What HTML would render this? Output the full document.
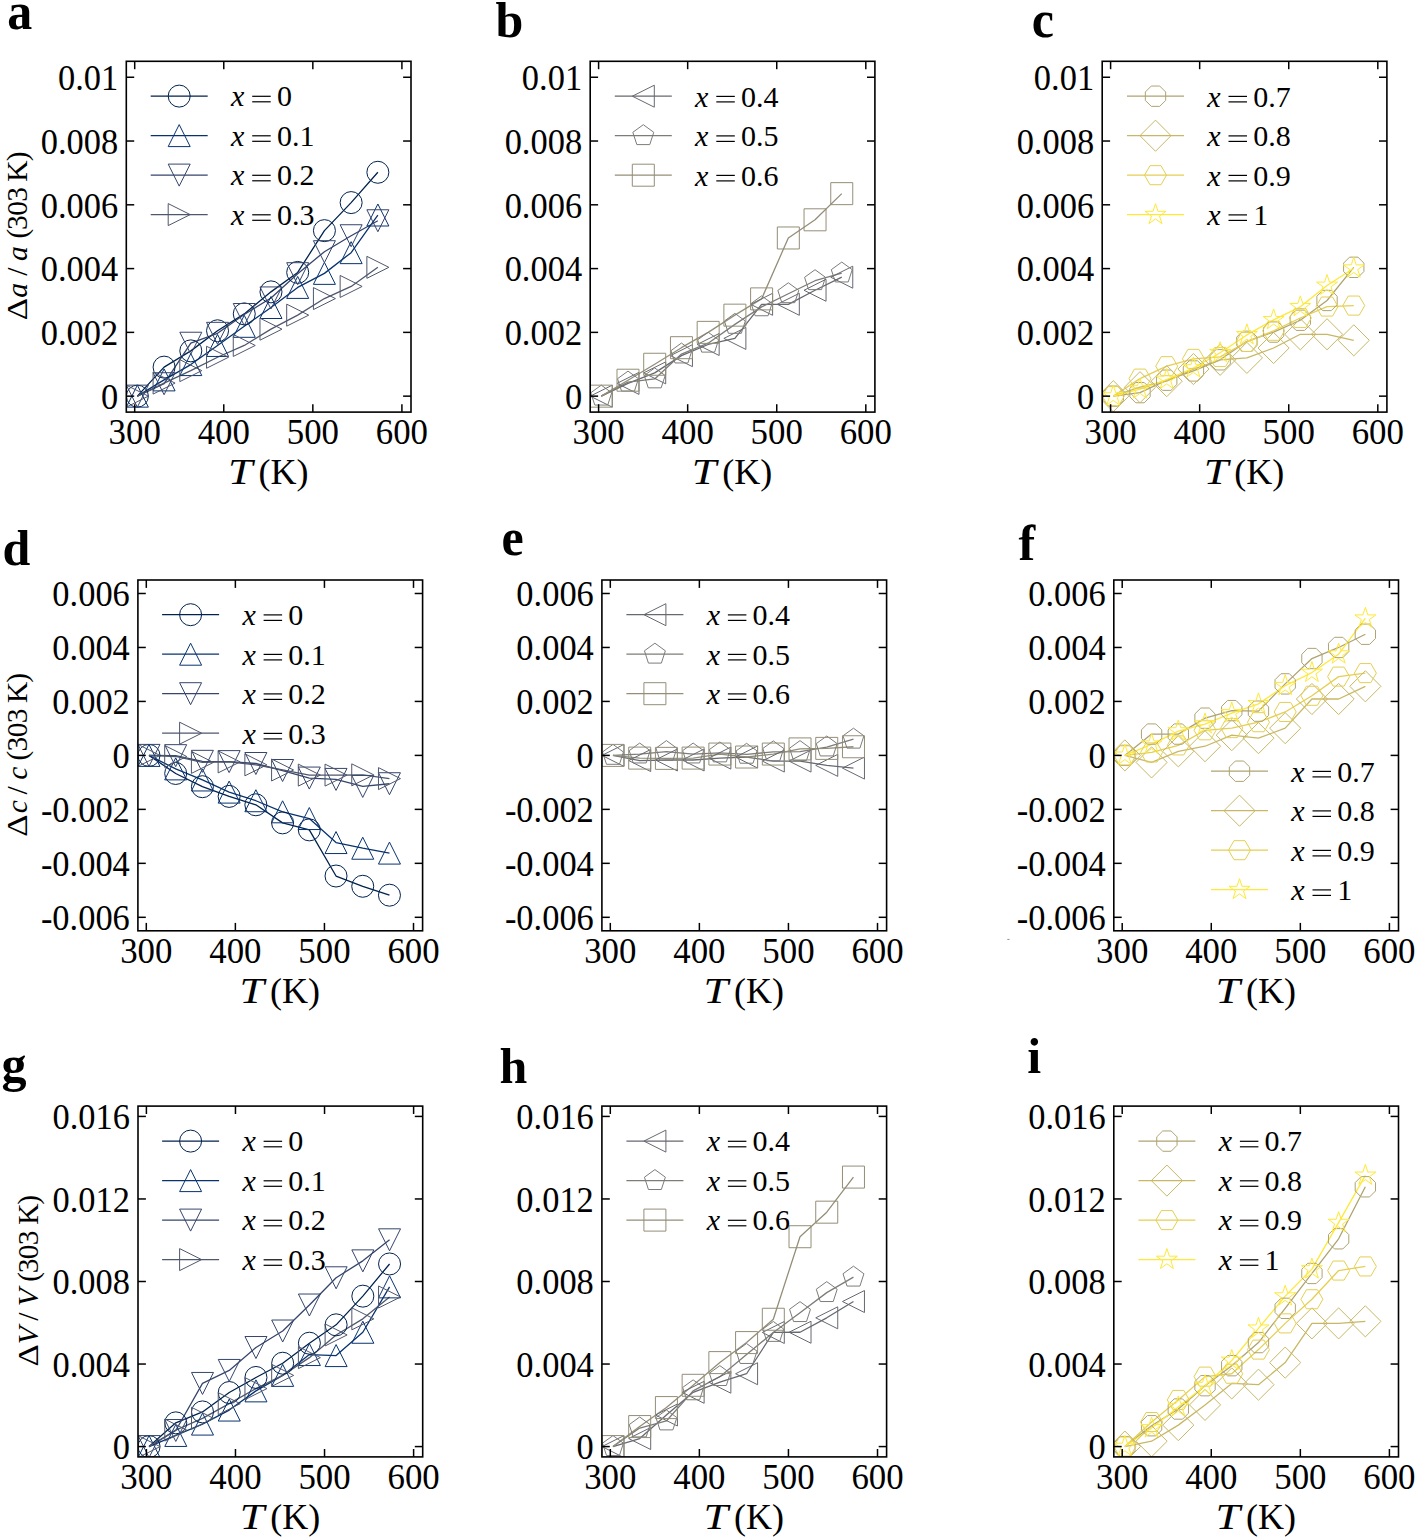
<!DOCTYPE html>
<html><head><meta charset="utf-8"><style>html,body{margin:0;padding:0;background:#fff;overflow:hidden}svg{display:block}</style></head><body>
<svg width="1416" height="1540" viewBox="0 0 1416 1540"><defs><clipPath id="clipa"><rect x="126.3" y="61.3" width="284.7" height="350.8"/></clipPath><clipPath id="clipb"><rect x="590.2" y="61.3" width="284.7" height="350.8"/></clipPath><clipPath id="clipc"><rect x="1102.2" y="61.3" width="284.7" height="350.8"/></clipPath><clipPath id="clipd"><rect x="137.9" y="580.0" width="284.7" height="350.8"/></clipPath><clipPath id="clipe"><rect x="601.9" y="580.0" width="284.7" height="350.8"/></clipPath><clipPath id="clipf"><rect x="1113.8" y="580.0" width="284.7" height="350.8"/></clipPath><clipPath id="clipg"><rect x="138.0" y="1106.1" width="284.7" height="350.8"/></clipPath><clipPath id="cliph"><rect x="601.9" y="1106.1" width="284.7" height="350.8"/></clipPath><clipPath id="clipi"><rect x="1113.8" y="1106.1" width="284.7" height="350.8"/></clipPath></defs><rect width="1416" height="1540" fill="#fff"/><text transform="translate(7.3,28.5) scale(1,1.07)" font-family="Liberation Serif" font-weight="bold" font-size="50">a</text>
<g clip-path="url(#clipa)">
<polyline points="137.37,396.15 164.09,367.13 190.81,350.87 217.54,330.78 244.26,313.88 270.98,291.87 297.70,272.42 324.42,230.64 351.14,202.58 377.86,172.28" fill="none" stroke="#00224e" stroke-width="1.3" stroke-linejoin="round"/>
<polyline points="137.37,396.15 164.09,379.89 190.81,364.58 217.54,345.45 244.26,326.31 270.98,307.50 297.70,287.41 324.42,273.37 351.14,252.65 377.86,215.01" fill="none" stroke="#083370" stroke-width="1.3" stroke-linejoin="round"/>
<polyline points="137.37,396.15 164.09,383.72 190.81,343.22 217.54,333.33 244.26,314.51 270.98,297.93 297.70,273.69 324.42,251.69 351.14,235.74 377.86,220.75" fill="none" stroke="#35456c" stroke-width="1.3" stroke-linejoin="round"/>
<polyline points="137.37,396.15 164.09,383.08 190.81,370.64 217.54,357.25 244.26,345.45 270.98,329.18 297.70,315.15 324.42,298.57 351.14,286.45 377.86,267.32" fill="none" stroke="#4f576c" stroke-width="1.3" stroke-linejoin="round"/>
<circle cx="137.37" cy="396.15" r="11.0" fill="none" stroke="#00224e" stroke-width="1.0"/>
<circle cx="164.09" cy="367.13" r="11.0" fill="none" stroke="#00224e" stroke-width="1.0"/>
<circle cx="190.81" cy="350.87" r="11.0" fill="none" stroke="#00224e" stroke-width="1.0"/>
<circle cx="217.54" cy="330.78" r="11.0" fill="none" stroke="#00224e" stroke-width="1.0"/>
<circle cx="244.26" cy="313.88" r="11.0" fill="none" stroke="#00224e" stroke-width="1.0"/>
<circle cx="270.98" cy="291.87" r="11.0" fill="none" stroke="#00224e" stroke-width="1.0"/>
<circle cx="297.70" cy="272.42" r="11.0" fill="none" stroke="#00224e" stroke-width="1.0"/>
<circle cx="324.42" cy="230.64" r="11.0" fill="none" stroke="#00224e" stroke-width="1.0"/>
<circle cx="351.14" cy="202.58" r="11.0" fill="none" stroke="#00224e" stroke-width="1.0"/>
<circle cx="377.86" cy="172.28" r="11.0" fill="none" stroke="#00224e" stroke-width="1.0"/>
<path d="M137.37,385.15 L126.37,407.15 L148.37,407.15 Z" fill="none" stroke="#083370" stroke-width="1.0" stroke-linejoin="miter"/>
<path d="M164.09,368.89 L153.09,390.89 L175.09,390.89 Z" fill="none" stroke="#083370" stroke-width="1.0" stroke-linejoin="miter"/>
<path d="M190.81,353.58 L179.81,375.58 L201.81,375.58 Z" fill="none" stroke="#083370" stroke-width="1.0" stroke-linejoin="miter"/>
<path d="M217.54,334.45 L206.54,356.45 L228.54,356.45 Z" fill="none" stroke="#083370" stroke-width="1.0" stroke-linejoin="miter"/>
<path d="M244.26,315.31 L233.26,337.31 L255.26,337.31 Z" fill="none" stroke="#083370" stroke-width="1.0" stroke-linejoin="miter"/>
<path d="M270.98,296.50 L259.98,318.50 L281.98,318.50 Z" fill="none" stroke="#083370" stroke-width="1.0" stroke-linejoin="miter"/>
<path d="M297.70,276.41 L286.70,298.41 L308.70,298.41 Z" fill="none" stroke="#083370" stroke-width="1.0" stroke-linejoin="miter"/>
<path d="M324.42,262.37 L313.42,284.37 L335.42,284.37 Z" fill="none" stroke="#083370" stroke-width="1.0" stroke-linejoin="miter"/>
<path d="M351.14,241.65 L340.14,263.65 L362.14,263.65 Z" fill="none" stroke="#083370" stroke-width="1.0" stroke-linejoin="miter"/>
<path d="M377.86,204.01 L366.86,226.01 L388.86,226.01 Z" fill="none" stroke="#083370" stroke-width="1.0" stroke-linejoin="miter"/>
<path d="M137.37,407.15 L126.37,385.15 L148.37,385.15 Z" fill="none" stroke="#35456c" stroke-width="1.0" stroke-linejoin="miter"/>
<path d="M164.09,394.72 L153.09,372.72 L175.09,372.72 Z" fill="none" stroke="#35456c" stroke-width="1.0" stroke-linejoin="miter"/>
<path d="M190.81,354.22 L179.81,332.22 L201.81,332.22 Z" fill="none" stroke="#35456c" stroke-width="1.0" stroke-linejoin="miter"/>
<path d="M217.54,344.33 L206.54,322.33 L228.54,322.33 Z" fill="none" stroke="#35456c" stroke-width="1.0" stroke-linejoin="miter"/>
<path d="M244.26,325.51 L233.26,303.51 L255.26,303.51 Z" fill="none" stroke="#35456c" stroke-width="1.0" stroke-linejoin="miter"/>
<path d="M270.98,308.93 L259.98,286.93 L281.98,286.93 Z" fill="none" stroke="#35456c" stroke-width="1.0" stroke-linejoin="miter"/>
<path d="M297.70,284.69 L286.70,262.69 L308.70,262.69 Z" fill="none" stroke="#35456c" stroke-width="1.0" stroke-linejoin="miter"/>
<path d="M324.42,262.69 L313.42,240.69 L335.42,240.69 Z" fill="none" stroke="#35456c" stroke-width="1.0" stroke-linejoin="miter"/>
<path d="M351.14,246.74 L340.14,224.74 L362.14,224.74 Z" fill="none" stroke="#35456c" stroke-width="1.0" stroke-linejoin="miter"/>
<path d="M377.86,231.75 L366.86,209.75 L388.86,209.75 Z" fill="none" stroke="#35456c" stroke-width="1.0" stroke-linejoin="miter"/>
<path d="M148.37,396.15 L126.37,385.15 L126.37,407.15 Z" fill="none" stroke="#4f576c" stroke-width="1.0" stroke-linejoin="miter"/>
<path d="M175.09,383.08 L153.09,372.08 L153.09,394.08 Z" fill="none" stroke="#4f576c" stroke-width="1.0" stroke-linejoin="miter"/>
<path d="M201.81,370.64 L179.81,359.64 L179.81,381.64 Z" fill="none" stroke="#4f576c" stroke-width="1.0" stroke-linejoin="miter"/>
<path d="M228.54,357.25 L206.54,346.25 L206.54,368.25 Z" fill="none" stroke="#4f576c" stroke-width="1.0" stroke-linejoin="miter"/>
<path d="M255.26,345.45 L233.26,334.45 L233.26,356.45 Z" fill="none" stroke="#4f576c" stroke-width="1.0" stroke-linejoin="miter"/>
<path d="M281.98,329.18 L259.98,318.18 L259.98,340.18 Z" fill="none" stroke="#4f576c" stroke-width="1.0" stroke-linejoin="miter"/>
<path d="M308.70,315.15 L286.70,304.15 L286.70,326.15 Z" fill="none" stroke="#4f576c" stroke-width="1.0" stroke-linejoin="miter"/>
<path d="M335.42,298.57 L313.42,287.57 L313.42,309.57 Z" fill="none" stroke="#4f576c" stroke-width="1.0" stroke-linejoin="miter"/>
<path d="M362.14,286.45 L340.14,275.45 L340.14,297.45 Z" fill="none" stroke="#4f576c" stroke-width="1.0" stroke-linejoin="miter"/>
<path d="M388.86,267.32 L366.86,256.32 L366.86,278.32 Z" fill="none" stroke="#4f576c" stroke-width="1.0" stroke-linejoin="miter"/>
</g>
<rect x="126.3" y="61.3" width="284.7" height="350.8" fill="none" stroke="#000" stroke-width="1.6"/>
<line x1="134.70" y1="412.1" x2="134.70" y2="404.20000000000005" stroke="#000" stroke-width="1.5"/>
<line x1="134.70" y1="61.3" x2="134.70" y2="69.2" stroke="#000" stroke-width="1.5"/>
<text transform="translate(134.70,444.1) scale(0.955,1)" font-family="Liberation Serif" font-size="36.5" text-anchor="middle">300</text>
<line x1="223.77" y1="412.1" x2="223.77" y2="404.20000000000005" stroke="#000" stroke-width="1.5"/>
<line x1="223.77" y1="61.3" x2="223.77" y2="69.2" stroke="#000" stroke-width="1.5"/>
<text transform="translate(223.77,444.1) scale(0.955,1)" font-family="Liberation Serif" font-size="36.5" text-anchor="middle">400</text>
<line x1="312.84" y1="412.1" x2="312.84" y2="404.20000000000005" stroke="#000" stroke-width="1.5"/>
<line x1="312.84" y1="61.3" x2="312.84" y2="69.2" stroke="#000" stroke-width="1.5"/>
<text transform="translate(312.84,444.1) scale(0.955,1)" font-family="Liberation Serif" font-size="36.5" text-anchor="middle">500</text>
<line x1="401.91" y1="412.1" x2="401.91" y2="404.20000000000005" stroke="#000" stroke-width="1.5"/>
<line x1="401.91" y1="61.3" x2="401.91" y2="69.2" stroke="#000" stroke-width="1.5"/>
<text transform="translate(401.91,444.1) scale(0.955,1)" font-family="Liberation Serif" font-size="36.5" text-anchor="middle">600</text>
<line x1="126.3" y1="396.15" x2="134.2" y2="396.15" stroke="#000" stroke-width="1.5"/>
<line x1="411.0" y1="396.15" x2="403.1" y2="396.15" stroke="#000" stroke-width="1.5"/>
<text transform="translate(118.20,409.05) scale(0.943,1)" font-family="Liberation Serif" font-size="36.5" text-anchor="end">0</text>
<line x1="126.3" y1="332.37" x2="134.2" y2="332.37" stroke="#000" stroke-width="1.5"/>
<line x1="411.0" y1="332.37" x2="403.1" y2="332.37" stroke="#000" stroke-width="1.5"/>
<text transform="translate(118.20,345.27) scale(0.943,1)" font-family="Liberation Serif" font-size="36.5" text-anchor="end">0.002</text>
<line x1="126.3" y1="268.59" x2="134.2" y2="268.59" stroke="#000" stroke-width="1.5"/>
<line x1="411.0" y1="268.59" x2="403.1" y2="268.59" stroke="#000" stroke-width="1.5"/>
<text transform="translate(118.20,281.49) scale(0.943,1)" font-family="Liberation Serif" font-size="36.5" text-anchor="end">0.004</text>
<line x1="126.3" y1="204.81" x2="134.2" y2="204.81" stroke="#000" stroke-width="1.5"/>
<line x1="411.0" y1="204.81" x2="403.1" y2="204.81" stroke="#000" stroke-width="1.5"/>
<text transform="translate(118.20,217.71) scale(0.943,1)" font-family="Liberation Serif" font-size="36.5" text-anchor="end">0.006</text>
<line x1="126.3" y1="141.03" x2="134.2" y2="141.03" stroke="#000" stroke-width="1.5"/>
<line x1="411.0" y1="141.03" x2="403.1" y2="141.03" stroke="#000" stroke-width="1.5"/>
<text transform="translate(118.20,153.93) scale(0.943,1)" font-family="Liberation Serif" font-size="36.5" text-anchor="end">0.008</text>
<line x1="126.3" y1="77.25" x2="134.2" y2="77.25" stroke="#000" stroke-width="1.5"/>
<line x1="411.0" y1="77.25" x2="403.1" y2="77.25" stroke="#000" stroke-width="1.5"/>
<text transform="translate(118.20,90.15) scale(0.943,1)" font-family="Liberation Serif" font-size="36.5" text-anchor="end">0.01</text>
<text transform="translate(227.95,484.20) scale(1.226,1)" font-family="Liberation Serif" font-size="36" font-style="italic">T</text>
<text x="258.45" y="484.20" font-family="Liberation Serif" font-size="36">(K)</text>
<g transform="translate(26.6,319.15) rotate(-90)" font-family="Liberation Serif" font-size="29.5"><text transform="translate(-1.18,0) scale(1.18,1)" font-style="normal">Δ</text><text x="21.50" y="0" font-style="italic">a</text><text x="43.40" y="0" font-style="normal">/</text><text x="58.20" y="0" font-style="italic">a</text><text x="80.60" y="0" font-style="normal">(</text><text x="89.20" y="0" font-style="normal">3</text><text x="103.40" y="0" font-style="normal">0</text><text x="117.30" y="0" font-style="normal">3</text><text x="137.30" y="0" font-style="normal">K</text><text x="158.00" y="0" font-style="normal">)</text></g>
<line x1="150.70" y1="96.10" x2="207.70" y2="96.10" stroke="#00224e" stroke-width="1.3"/>
<circle cx="179.20" cy="96.10" r="11.0" fill="none" stroke="#00224e" stroke-width="1.0"/>
<text x="231.00" y="106.40" font-family="Liberation Serif" font-size="30" font-style="italic">x</text>
<rect x="252.20" y="95.70" width="18.5" height="1.2" fill="#000"/>
<rect x="252.20" y="101.20" width="18.5" height="1.2" fill="#000"/>
<text x="276.90" y="106.40" font-family="Liberation Serif" font-size="30">0</text>
<line x1="150.70" y1="135.60" x2="207.70" y2="135.60" stroke="#083370" stroke-width="1.3"/>
<path d="M179.20,124.60 L168.20,146.60 L190.20,146.60 Z" fill="none" stroke="#083370" stroke-width="1.0" stroke-linejoin="miter"/>
<text x="231.00" y="145.90" font-family="Liberation Serif" font-size="30" font-style="italic">x</text>
<rect x="252.20" y="135.20" width="18.5" height="1.2" fill="#000"/>
<rect x="252.20" y="140.70" width="18.5" height="1.2" fill="#000"/>
<text x="276.90" y="145.90" font-family="Liberation Serif" font-size="30">0.1</text>
<line x1="150.70" y1="175.10" x2="207.70" y2="175.10" stroke="#35456c" stroke-width="1.3"/>
<path d="M179.20,186.10 L168.20,164.10 L190.20,164.10 Z" fill="none" stroke="#35456c" stroke-width="1.0" stroke-linejoin="miter"/>
<text x="231.00" y="185.40" font-family="Liberation Serif" font-size="30" font-style="italic">x</text>
<rect x="252.20" y="174.70" width="18.5" height="1.2" fill="#000"/>
<rect x="252.20" y="180.20" width="18.5" height="1.2" fill="#000"/>
<text x="276.90" y="185.40" font-family="Liberation Serif" font-size="30">0.2</text>
<line x1="150.70" y1="214.60" x2="207.70" y2="214.60" stroke="#4f576c" stroke-width="1.3"/>
<path d="M190.20,214.60 L168.20,203.60 L168.20,225.60 Z" fill="none" stroke="#4f576c" stroke-width="1.0" stroke-linejoin="miter"/>
<text x="231.00" y="224.90" font-family="Liberation Serif" font-size="30" font-style="italic">x</text>
<rect x="252.20" y="214.20" width="18.5" height="1.2" fill="#000"/>
<rect x="252.20" y="219.70" width="18.5" height="1.2" fill="#000"/>
<text x="276.90" y="224.90" font-family="Liberation Serif" font-size="30">0.3</text>
<text transform="translate(495.6,36.7) scale(1,1.0)" font-family="Liberation Serif" font-weight="bold" font-size="50">b</text>
<g clip-path="url(#clipb)">
<polyline points="601.27,396.15 627.99,383.40 654.71,372.87 681.44,355.65 708.16,344.49 734.88,338.43 761.60,304.31 788.32,304.31 815.04,290.28 841.76,277.20" fill="none" stroke="#666970" stroke-width="1.3" stroke-linejoin="round"/>
<polyline points="601.27,396.15 627.99,382.12 654.71,378.93 681.44,354.06 708.16,343.22 734.88,324.40 761.60,306.86 788.32,293.78 815.04,280.71 841.76,273.06" fill="none" stroke="#7d7c78" stroke-width="1.3" stroke-linejoin="round"/>
<polyline points="601.27,396.15 627.99,380.21 654.71,364.26 681.44,347.68 708.16,332.37 734.88,315.15 761.60,298.89 788.32,237.98 815.04,219.80 841.76,193.65" fill="none" stroke="#948e77" stroke-width="1.3" stroke-linejoin="round"/>
<path d="M590.27,396.15 L612.27,385.15 L612.27,407.15 Z" fill="none" stroke="#666970" stroke-width="1.0" stroke-linejoin="miter"/>
<path d="M616.99,383.40 L638.99,372.40 L638.99,394.40 Z" fill="none" stroke="#666970" stroke-width="1.0" stroke-linejoin="miter"/>
<path d="M643.71,372.87 L665.71,361.87 L665.71,383.87 Z" fill="none" stroke="#666970" stroke-width="1.0" stroke-linejoin="miter"/>
<path d="M670.44,355.65 L692.44,344.65 L692.44,366.65 Z" fill="none" stroke="#666970" stroke-width="1.0" stroke-linejoin="miter"/>
<path d="M697.16,344.49 L719.16,333.49 L719.16,355.49 Z" fill="none" stroke="#666970" stroke-width="1.0" stroke-linejoin="miter"/>
<path d="M723.88,338.43 L745.88,327.43 L745.88,349.43 Z" fill="none" stroke="#666970" stroke-width="1.0" stroke-linejoin="miter"/>
<path d="M750.60,304.31 L772.60,293.31 L772.60,315.31 Z" fill="none" stroke="#666970" stroke-width="1.0" stroke-linejoin="miter"/>
<path d="M777.32,304.31 L799.32,293.31 L799.32,315.31 Z" fill="none" stroke="#666970" stroke-width="1.0" stroke-linejoin="miter"/>
<path d="M804.04,290.28 L826.04,279.28 L826.04,301.28 Z" fill="none" stroke="#666970" stroke-width="1.0" stroke-linejoin="miter"/>
<path d="M830.76,277.20 L852.76,266.20 L852.76,288.20 Z" fill="none" stroke="#666970" stroke-width="1.0" stroke-linejoin="miter"/>
<path d="M601.27,385.15 L611.73,392.76 L607.74,405.05 L594.81,405.05 L590.81,392.76 Z" fill="none" stroke="#7d7c78" stroke-width="1.0" stroke-linejoin="miter"/>
<path d="M627.99,371.12 L638.45,378.72 L634.46,391.02 L621.53,391.02 L617.53,378.72 Z" fill="none" stroke="#7d7c78" stroke-width="1.0" stroke-linejoin="miter"/>
<path d="M654.71,367.93 L665.18,375.53 L661.18,387.83 L648.25,387.83 L644.25,375.53 Z" fill="none" stroke="#7d7c78" stroke-width="1.0" stroke-linejoin="miter"/>
<path d="M681.44,343.06 L691.90,350.66 L687.90,362.96 L674.97,362.96 L670.97,350.66 Z" fill="none" stroke="#7d7c78" stroke-width="1.0" stroke-linejoin="miter"/>
<path d="M708.16,332.22 L718.62,339.82 L714.62,352.11 L701.69,352.11 L697.69,339.82 Z" fill="none" stroke="#7d7c78" stroke-width="1.0" stroke-linejoin="miter"/>
<path d="M734.88,313.40 L745.34,321.00 L741.34,333.30 L728.41,333.30 L724.42,321.00 Z" fill="none" stroke="#7d7c78" stroke-width="1.0" stroke-linejoin="miter"/>
<path d="M761.60,295.86 L772.06,303.46 L768.06,315.76 L755.13,315.76 L751.14,303.46 Z" fill="none" stroke="#7d7c78" stroke-width="1.0" stroke-linejoin="miter"/>
<path d="M788.32,282.78 L798.78,290.39 L794.78,302.68 L781.85,302.68 L777.86,290.39 Z" fill="none" stroke="#7d7c78" stroke-width="1.0" stroke-linejoin="miter"/>
<path d="M815.04,269.71 L825.50,277.31 L821.51,289.61 L808.57,289.61 L804.58,277.31 Z" fill="none" stroke="#7d7c78" stroke-width="1.0" stroke-linejoin="miter"/>
<path d="M841.76,262.06 L852.22,269.66 L848.23,281.95 L835.30,281.95 L831.30,269.66 Z" fill="none" stroke="#7d7c78" stroke-width="1.0" stroke-linejoin="miter"/>
<path d="M590.27,385.15 L612.27,385.15 L612.27,407.15 L590.27,407.15 Z" fill="none" stroke="#948e77" stroke-width="1.0" stroke-linejoin="miter"/>
<path d="M616.99,369.21 L638.99,369.21 L638.99,391.21 L616.99,391.21 Z" fill="none" stroke="#948e77" stroke-width="1.0" stroke-linejoin="miter"/>
<path d="M643.71,353.26 L665.71,353.26 L665.71,375.26 L643.71,375.26 Z" fill="none" stroke="#948e77" stroke-width="1.0" stroke-linejoin="miter"/>
<path d="M670.44,336.68 L692.44,336.68 L692.44,358.68 L670.44,358.68 Z" fill="none" stroke="#948e77" stroke-width="1.0" stroke-linejoin="miter"/>
<path d="M697.16,321.37 L719.16,321.37 L719.16,343.37 L697.16,343.37 Z" fill="none" stroke="#948e77" stroke-width="1.0" stroke-linejoin="miter"/>
<path d="M723.88,304.15 L745.88,304.15 L745.88,326.15 L723.88,326.15 Z" fill="none" stroke="#948e77" stroke-width="1.0" stroke-linejoin="miter"/>
<path d="M750.60,287.89 L772.60,287.89 L772.60,309.89 L750.60,309.89 Z" fill="none" stroke="#948e77" stroke-width="1.0" stroke-linejoin="miter"/>
<path d="M777.32,226.98 L799.32,226.98 L799.32,248.98 L777.32,248.98 Z" fill="none" stroke="#948e77" stroke-width="1.0" stroke-linejoin="miter"/>
<path d="M804.04,208.80 L826.04,208.80 L826.04,230.80 L804.04,230.80 Z" fill="none" stroke="#948e77" stroke-width="1.0" stroke-linejoin="miter"/>
<path d="M830.76,182.65 L852.76,182.65 L852.76,204.65 L830.76,204.65 Z" fill="none" stroke="#948e77" stroke-width="1.0" stroke-linejoin="miter"/>
</g>
<rect x="590.2" y="61.3" width="284.7" height="350.8" fill="none" stroke="#000" stroke-width="1.6"/>
<line x1="598.60" y1="412.1" x2="598.60" y2="404.20000000000005" stroke="#000" stroke-width="1.5"/>
<line x1="598.60" y1="61.3" x2="598.60" y2="69.2" stroke="#000" stroke-width="1.5"/>
<text transform="translate(598.60,444.1) scale(0.955,1)" font-family="Liberation Serif" font-size="36.5" text-anchor="middle">300</text>
<line x1="687.67" y1="412.1" x2="687.67" y2="404.20000000000005" stroke="#000" stroke-width="1.5"/>
<line x1="687.67" y1="61.3" x2="687.67" y2="69.2" stroke="#000" stroke-width="1.5"/>
<text transform="translate(687.67,444.1) scale(0.955,1)" font-family="Liberation Serif" font-size="36.5" text-anchor="middle">400</text>
<line x1="776.74" y1="412.1" x2="776.74" y2="404.20000000000005" stroke="#000" stroke-width="1.5"/>
<line x1="776.74" y1="61.3" x2="776.74" y2="69.2" stroke="#000" stroke-width="1.5"/>
<text transform="translate(776.74,444.1) scale(0.955,1)" font-family="Liberation Serif" font-size="36.5" text-anchor="middle">500</text>
<line x1="865.81" y1="412.1" x2="865.81" y2="404.20000000000005" stroke="#000" stroke-width="1.5"/>
<line x1="865.81" y1="61.3" x2="865.81" y2="69.2" stroke="#000" stroke-width="1.5"/>
<text transform="translate(865.81,444.1) scale(0.955,1)" font-family="Liberation Serif" font-size="36.5" text-anchor="middle">600</text>
<line x1="590.2" y1="396.15" x2="598.1" y2="396.15" stroke="#000" stroke-width="1.5"/>
<line x1="874.9000000000001" y1="396.15" x2="867.0000000000001" y2="396.15" stroke="#000" stroke-width="1.5"/>
<text transform="translate(582.10,409.05) scale(0.943,1)" font-family="Liberation Serif" font-size="36.5" text-anchor="end">0</text>
<line x1="590.2" y1="332.37" x2="598.1" y2="332.37" stroke="#000" stroke-width="1.5"/>
<line x1="874.9000000000001" y1="332.37" x2="867.0000000000001" y2="332.37" stroke="#000" stroke-width="1.5"/>
<text transform="translate(582.10,345.27) scale(0.943,1)" font-family="Liberation Serif" font-size="36.5" text-anchor="end">0.002</text>
<line x1="590.2" y1="268.59" x2="598.1" y2="268.59" stroke="#000" stroke-width="1.5"/>
<line x1="874.9000000000001" y1="268.59" x2="867.0000000000001" y2="268.59" stroke="#000" stroke-width="1.5"/>
<text transform="translate(582.10,281.49) scale(0.943,1)" font-family="Liberation Serif" font-size="36.5" text-anchor="end">0.004</text>
<line x1="590.2" y1="204.81" x2="598.1" y2="204.81" stroke="#000" stroke-width="1.5"/>
<line x1="874.9000000000001" y1="204.81" x2="867.0000000000001" y2="204.81" stroke="#000" stroke-width="1.5"/>
<text transform="translate(582.10,217.71) scale(0.943,1)" font-family="Liberation Serif" font-size="36.5" text-anchor="end">0.006</text>
<line x1="590.2" y1="141.03" x2="598.1" y2="141.03" stroke="#000" stroke-width="1.5"/>
<line x1="874.9000000000001" y1="141.03" x2="867.0000000000001" y2="141.03" stroke="#000" stroke-width="1.5"/>
<text transform="translate(582.10,153.93) scale(0.943,1)" font-family="Liberation Serif" font-size="36.5" text-anchor="end">0.008</text>
<line x1="590.2" y1="77.25" x2="598.1" y2="77.25" stroke="#000" stroke-width="1.5"/>
<line x1="874.9000000000001" y1="77.25" x2="867.0000000000001" y2="77.25" stroke="#000" stroke-width="1.5"/>
<text transform="translate(582.10,90.15) scale(0.943,1)" font-family="Liberation Serif" font-size="36.5" text-anchor="end">0.01</text>
<text transform="translate(691.85,484.20) scale(1.226,1)" font-family="Liberation Serif" font-size="36" font-style="italic">T</text>
<text x="722.35" y="484.20" font-family="Liberation Serif" font-size="36">(K)</text>
<line x1="614.80" y1="96.20" x2="671.80" y2="96.20" stroke="#666970" stroke-width="1.3"/>
<path d="M632.30,96.20 L654.30,85.20 L654.30,107.20 Z" fill="none" stroke="#666970" stroke-width="1.0" stroke-linejoin="miter"/>
<text x="695.10" y="106.50" font-family="Liberation Serif" font-size="30" font-style="italic">x</text>
<rect x="716.30" y="95.80" width="18.5" height="1.2" fill="#000"/>
<rect x="716.30" y="101.30" width="18.5" height="1.2" fill="#000"/>
<text x="741.00" y="106.50" font-family="Liberation Serif" font-size="30">0.4</text>
<line x1="614.80" y1="135.70" x2="671.80" y2="135.70" stroke="#7d7c78" stroke-width="1.3"/>
<path d="M643.30,124.70 L653.76,132.30 L649.77,144.60 L636.83,144.60 L632.84,132.30 Z" fill="none" stroke="#7d7c78" stroke-width="1.0" stroke-linejoin="miter"/>
<text x="695.10" y="146.00" font-family="Liberation Serif" font-size="30" font-style="italic">x</text>
<rect x="716.30" y="135.30" width="18.5" height="1.2" fill="#000"/>
<rect x="716.30" y="140.80" width="18.5" height="1.2" fill="#000"/>
<text x="741.00" y="146.00" font-family="Liberation Serif" font-size="30">0.5</text>
<line x1="614.80" y1="175.20" x2="671.80" y2="175.20" stroke="#948e77" stroke-width="1.3"/>
<path d="M632.30,164.20 L654.30,164.20 L654.30,186.20 L632.30,186.20 Z" fill="none" stroke="#948e77" stroke-width="1.0" stroke-linejoin="miter"/>
<text x="695.10" y="185.50" font-family="Liberation Serif" font-size="30" font-style="italic">x</text>
<rect x="716.30" y="174.80" width="18.5" height="1.2" fill="#000"/>
<rect x="716.30" y="180.30" width="18.5" height="1.2" fill="#000"/>
<text x="741.00" y="185.50" font-family="Liberation Serif" font-size="30">0.6</text>
<text transform="translate(1031.7,36.7) scale(1,1.07)" font-family="Liberation Serif" font-weight="bold" font-size="50">c</text>
<g clip-path="url(#clipc)">
<polyline points="1113.27,396.15 1139.99,392.65 1166.71,380.21 1193.44,370.96 1220.16,359.80 1246.88,341.30 1273.60,332.05 1300.32,320.25 1327.04,300.48 1353.76,267.32" fill="none" stroke="#aea371" stroke-width="1.3" stroke-linejoin="round"/>
<polyline points="1113.27,396.15 1139.99,387.23 1166.71,381.17 1193.44,369.05 1220.16,359.80 1246.88,357.89 1273.60,348.00 1300.32,334.29 1327.04,334.29 1353.76,340.35" fill="none" stroke="#c8b866" stroke-width="1.3" stroke-linejoin="round"/>
<polyline points="1113.27,396.15 1139.99,378.61 1166.71,366.18 1193.44,358.84 1220.16,356.93 1246.88,341.94 1273.60,330.78 1300.32,318.02 1327.04,306.54 1353.76,305.58" fill="none" stroke="#e5cf52" stroke-width="1.3" stroke-linejoin="round"/>
<polyline points="1113.27,396.15 1139.99,389.14 1166.71,379.57 1193.44,368.09 1220.16,352.78 1246.88,334.92 1273.60,319.94 1300.32,306.86 1327.04,285.49 1353.76,268.27" fill="none" stroke="#fee838" stroke-width="1.3" stroke-linejoin="round"/>
<path d="M1117.48,385.99 L1123.43,391.95 L1123.43,400.36 L1117.48,406.32 L1109.06,406.32 L1103.11,400.36 L1103.11,391.95 L1109.06,385.99 Z" fill="none" stroke="#aea371" stroke-width="1.0" stroke-linejoin="miter"/>
<path d="M1144.20,382.48 L1150.16,388.44 L1150.16,396.86 L1144.20,402.81 L1135.78,402.81 L1129.83,396.86 L1129.83,388.44 L1135.78,382.48 Z" fill="none" stroke="#aea371" stroke-width="1.0" stroke-linejoin="miter"/>
<path d="M1170.92,370.05 L1176.88,376.00 L1176.88,384.42 L1170.92,390.37 L1162.50,390.37 L1156.55,384.42 L1156.55,376.00 L1162.50,370.05 Z" fill="none" stroke="#aea371" stroke-width="1.0" stroke-linejoin="miter"/>
<path d="M1197.64,360.80 L1203.60,366.75 L1203.60,375.17 L1197.64,381.12 L1189.23,381.12 L1183.27,375.17 L1183.27,366.75 L1189.23,360.80 Z" fill="none" stroke="#aea371" stroke-width="1.0" stroke-linejoin="miter"/>
<path d="M1224.37,349.64 L1230.32,355.59 L1230.32,364.01 L1224.37,369.96 L1215.95,369.96 L1209.99,364.01 L1209.99,355.59 L1215.95,349.64 Z" fill="none" stroke="#aea371" stroke-width="1.0" stroke-linejoin="miter"/>
<path d="M1251.09,331.14 L1257.04,337.09 L1257.04,345.51 L1251.09,351.46 L1242.67,351.46 L1236.71,345.51 L1236.71,337.09 L1242.67,331.14 Z" fill="none" stroke="#aea371" stroke-width="1.0" stroke-linejoin="miter"/>
<path d="M1277.81,321.89 L1283.76,327.84 L1283.76,336.26 L1277.81,342.22 L1269.39,342.22 L1263.44,336.26 L1263.44,327.84 L1269.39,321.89 Z" fill="none" stroke="#aea371" stroke-width="1.0" stroke-linejoin="miter"/>
<path d="M1304.53,310.09 L1310.48,316.04 L1310.48,324.46 L1304.53,330.42 L1296.11,330.42 L1290.16,324.46 L1290.16,316.04 L1296.11,310.09 Z" fill="none" stroke="#aea371" stroke-width="1.0" stroke-linejoin="miter"/>
<path d="M1331.25,290.32 L1337.20,296.27 L1337.20,304.69 L1331.25,310.64 L1322.83,310.64 L1316.88,304.69 L1316.88,296.27 L1322.83,290.32 Z" fill="none" stroke="#aea371" stroke-width="1.0" stroke-linejoin="miter"/>
<path d="M1357.97,257.15 L1363.92,263.11 L1363.92,271.52 L1357.97,277.48 L1349.55,277.48 L1343.60,271.52 L1343.60,263.11 L1349.55,257.15 Z" fill="none" stroke="#aea371" stroke-width="1.0" stroke-linejoin="miter"/>
<path d="M1113.27,380.60 L1128.83,396.15 L1113.27,411.71 L1097.72,396.15 Z" fill="none" stroke="#c8b866" stroke-width="1.0" stroke-linejoin="miter"/>
<path d="M1139.99,371.67 L1155.55,387.23 L1139.99,402.78 L1124.44,387.23 Z" fill="none" stroke="#c8b866" stroke-width="1.0" stroke-linejoin="miter"/>
<path d="M1166.71,365.61 L1182.27,381.17 L1166.71,396.72 L1151.16,381.17 Z" fill="none" stroke="#c8b866" stroke-width="1.0" stroke-linejoin="miter"/>
<path d="M1193.44,353.49 L1208.99,369.05 L1193.44,384.60 L1177.88,369.05 Z" fill="none" stroke="#c8b866" stroke-width="1.0" stroke-linejoin="miter"/>
<path d="M1220.16,344.24 L1235.71,359.80 L1220.16,375.36 L1204.60,359.80 Z" fill="none" stroke="#c8b866" stroke-width="1.0" stroke-linejoin="miter"/>
<path d="M1246.88,342.33 L1262.43,357.89 L1246.88,373.44 L1231.32,357.89 Z" fill="none" stroke="#c8b866" stroke-width="1.0" stroke-linejoin="miter"/>
<path d="M1273.60,332.44 L1289.15,348.00 L1273.60,363.56 L1258.04,348.00 Z" fill="none" stroke="#c8b866" stroke-width="1.0" stroke-linejoin="miter"/>
<path d="M1300.32,318.73 L1315.88,334.29 L1300.32,349.84 L1284.76,334.29 Z" fill="none" stroke="#c8b866" stroke-width="1.0" stroke-linejoin="miter"/>
<path d="M1327.04,318.73 L1342.60,334.29 L1327.04,349.84 L1311.48,334.29 Z" fill="none" stroke="#c8b866" stroke-width="1.0" stroke-linejoin="miter"/>
<path d="M1353.76,324.79 L1369.32,340.35 L1353.76,355.90 L1338.20,340.35 Z" fill="none" stroke="#c8b866" stroke-width="1.0" stroke-linejoin="miter"/>
<path d="M1118.77,386.63 L1124.27,396.15 L1118.77,405.68 L1107.77,405.68 L1102.27,396.15 L1107.77,386.63 Z" fill="none" stroke="#e5cf52" stroke-width="1.0" stroke-linejoin="miter"/>
<path d="M1145.49,369.09 L1150.99,378.61 L1145.49,388.14 L1134.49,388.14 L1128.99,378.61 L1134.49,369.09 Z" fill="none" stroke="#e5cf52" stroke-width="1.0" stroke-linejoin="miter"/>
<path d="M1172.21,356.65 L1177.71,366.18 L1172.21,375.70 L1161.21,375.70 L1155.71,366.18 L1161.21,356.65 Z" fill="none" stroke="#e5cf52" stroke-width="1.0" stroke-linejoin="miter"/>
<path d="M1198.94,349.32 L1204.44,358.84 L1198.94,368.37 L1187.94,368.37 L1182.44,358.84 L1187.94,349.32 Z" fill="none" stroke="#e5cf52" stroke-width="1.0" stroke-linejoin="miter"/>
<path d="M1225.66,347.40 L1231.16,356.93 L1225.66,366.46 L1214.66,366.46 L1209.16,356.93 L1214.66,347.40 Z" fill="none" stroke="#e5cf52" stroke-width="1.0" stroke-linejoin="miter"/>
<path d="M1252.38,332.41 L1257.88,341.94 L1252.38,351.47 L1241.38,351.47 L1235.88,341.94 L1241.38,332.41 Z" fill="none" stroke="#e5cf52" stroke-width="1.0" stroke-linejoin="miter"/>
<path d="M1279.10,321.25 L1284.60,330.78 L1279.10,340.30 L1268.10,340.30 L1262.60,330.78 L1268.10,321.25 Z" fill="none" stroke="#e5cf52" stroke-width="1.0" stroke-linejoin="miter"/>
<path d="M1305.82,308.50 L1311.32,318.02 L1305.82,327.55 L1294.82,327.55 L1289.32,318.02 L1294.82,308.50 Z" fill="none" stroke="#e5cf52" stroke-width="1.0" stroke-linejoin="miter"/>
<path d="M1332.54,297.01 L1338.04,306.54 L1332.54,316.07 L1321.54,316.07 L1316.04,306.54 L1321.54,297.01 Z" fill="none" stroke="#e5cf52" stroke-width="1.0" stroke-linejoin="miter"/>
<path d="M1359.26,296.06 L1364.76,305.58 L1359.26,315.11 L1348.26,315.11 L1342.76,305.58 L1348.26,296.06 Z" fill="none" stroke="#e5cf52" stroke-width="1.0" stroke-linejoin="miter"/>
<path d="M1113.27,385.15 L1115.74,392.76 L1123.73,392.76 L1117.27,397.45 L1119.74,405.05 L1113.27,400.36 L1106.81,405.05 L1109.28,397.45 L1102.81,392.76 L1110.80,392.76 Z" fill="none" stroke="#fee838" stroke-width="1.0" stroke-linejoin="miter"/>
<path d="M1139.99,378.14 L1142.46,385.74 L1150.45,385.74 L1143.99,390.44 L1146.46,398.04 L1139.99,393.34 L1133.53,398.04 L1136.00,390.44 L1129.53,385.74 L1137.52,385.74 Z" fill="none" stroke="#fee838" stroke-width="1.0" stroke-linejoin="miter"/>
<path d="M1166.71,368.57 L1169.18,376.17 L1177.18,376.17 L1170.71,380.87 L1173.18,388.47 L1166.71,383.77 L1160.25,388.47 L1162.72,380.87 L1156.25,376.17 L1164.24,376.17 Z" fill="none" stroke="#fee838" stroke-width="1.0" stroke-linejoin="miter"/>
<path d="M1193.44,357.09 L1195.90,364.69 L1203.90,364.69 L1197.43,369.39 L1199.90,376.99 L1193.44,372.29 L1186.97,376.99 L1189.44,369.39 L1182.97,364.69 L1190.97,364.69 Z" fill="none" stroke="#fee838" stroke-width="1.0" stroke-linejoin="miter"/>
<path d="M1220.16,341.78 L1222.63,349.38 L1230.62,349.38 L1224.15,354.08 L1226.62,361.68 L1220.16,356.98 L1213.69,361.68 L1216.16,354.08 L1209.69,349.38 L1217.69,349.38 Z" fill="none" stroke="#fee838" stroke-width="1.0" stroke-linejoin="miter"/>
<path d="M1246.88,323.92 L1249.35,331.52 L1257.34,331.52 L1250.87,336.22 L1253.34,343.82 L1246.88,339.13 L1240.41,343.82 L1242.88,336.22 L1236.42,331.52 L1244.41,331.52 Z" fill="none" stroke="#fee838" stroke-width="1.0" stroke-linejoin="miter"/>
<path d="M1273.60,308.94 L1276.07,316.54 L1284.06,316.54 L1277.59,321.23 L1280.06,328.83 L1273.60,324.14 L1267.13,328.83 L1269.60,321.23 L1263.14,316.54 L1271.13,316.54 Z" fill="none" stroke="#fee838" stroke-width="1.0" stroke-linejoin="miter"/>
<path d="M1300.32,295.86 L1302.79,303.46 L1310.78,303.46 L1304.32,308.16 L1306.78,315.76 L1300.32,311.06 L1293.85,315.76 L1296.32,308.16 L1289.86,303.46 L1297.85,303.46 Z" fill="none" stroke="#fee838" stroke-width="1.0" stroke-linejoin="miter"/>
<path d="M1327.04,274.49 L1329.51,282.09 L1337.50,282.09 L1331.04,286.79 L1333.51,294.39 L1327.04,289.69 L1320.57,294.39 L1323.04,286.79 L1316.58,282.09 L1324.57,282.09 Z" fill="none" stroke="#fee838" stroke-width="1.0" stroke-linejoin="miter"/>
<path d="M1353.76,257.27 L1356.23,264.87 L1364.22,264.87 L1357.76,269.57 L1360.23,277.17 L1353.76,272.47 L1347.30,277.17 L1349.77,269.57 L1343.30,264.87 L1351.29,264.87 Z" fill="none" stroke="#fee838" stroke-width="1.0" stroke-linejoin="miter"/>
</g>
<rect x="1102.2" y="61.3" width="284.7" height="350.8" fill="none" stroke="#000" stroke-width="1.6"/>
<line x1="1110.60" y1="412.1" x2="1110.60" y2="404.20000000000005" stroke="#000" stroke-width="1.5"/>
<line x1="1110.60" y1="61.3" x2="1110.60" y2="69.2" stroke="#000" stroke-width="1.5"/>
<text transform="translate(1110.60,444.1) scale(0.955,1)" font-family="Liberation Serif" font-size="36.5" text-anchor="middle">300</text>
<line x1="1199.67" y1="412.1" x2="1199.67" y2="404.20000000000005" stroke="#000" stroke-width="1.5"/>
<line x1="1199.67" y1="61.3" x2="1199.67" y2="69.2" stroke="#000" stroke-width="1.5"/>
<text transform="translate(1199.67,444.1) scale(0.955,1)" font-family="Liberation Serif" font-size="36.5" text-anchor="middle">400</text>
<line x1="1288.74" y1="412.1" x2="1288.74" y2="404.20000000000005" stroke="#000" stroke-width="1.5"/>
<line x1="1288.74" y1="61.3" x2="1288.74" y2="69.2" stroke="#000" stroke-width="1.5"/>
<text transform="translate(1288.74,444.1) scale(0.955,1)" font-family="Liberation Serif" font-size="36.5" text-anchor="middle">500</text>
<line x1="1377.81" y1="412.1" x2="1377.81" y2="404.20000000000005" stroke="#000" stroke-width="1.5"/>
<line x1="1377.81" y1="61.3" x2="1377.81" y2="69.2" stroke="#000" stroke-width="1.5"/>
<text transform="translate(1377.81,444.1) scale(0.955,1)" font-family="Liberation Serif" font-size="36.5" text-anchor="middle">600</text>
<line x1="1102.2" y1="396.15" x2="1110.1000000000001" y2="396.15" stroke="#000" stroke-width="1.5"/>
<line x1="1386.9" y1="396.15" x2="1379.0" y2="396.15" stroke="#000" stroke-width="1.5"/>
<text transform="translate(1094.10,409.05) scale(0.943,1)" font-family="Liberation Serif" font-size="36.5" text-anchor="end">0</text>
<line x1="1102.2" y1="332.37" x2="1110.1000000000001" y2="332.37" stroke="#000" stroke-width="1.5"/>
<line x1="1386.9" y1="332.37" x2="1379.0" y2="332.37" stroke="#000" stroke-width="1.5"/>
<text transform="translate(1094.10,345.27) scale(0.943,1)" font-family="Liberation Serif" font-size="36.5" text-anchor="end">0.002</text>
<line x1="1102.2" y1="268.59" x2="1110.1000000000001" y2="268.59" stroke="#000" stroke-width="1.5"/>
<line x1="1386.9" y1="268.59" x2="1379.0" y2="268.59" stroke="#000" stroke-width="1.5"/>
<text transform="translate(1094.10,281.49) scale(0.943,1)" font-family="Liberation Serif" font-size="36.5" text-anchor="end">0.004</text>
<line x1="1102.2" y1="204.81" x2="1110.1000000000001" y2="204.81" stroke="#000" stroke-width="1.5"/>
<line x1="1386.9" y1="204.81" x2="1379.0" y2="204.81" stroke="#000" stroke-width="1.5"/>
<text transform="translate(1094.10,217.71) scale(0.943,1)" font-family="Liberation Serif" font-size="36.5" text-anchor="end">0.006</text>
<line x1="1102.2" y1="141.03" x2="1110.1000000000001" y2="141.03" stroke="#000" stroke-width="1.5"/>
<line x1="1386.9" y1="141.03" x2="1379.0" y2="141.03" stroke="#000" stroke-width="1.5"/>
<text transform="translate(1094.10,153.93) scale(0.943,1)" font-family="Liberation Serif" font-size="36.5" text-anchor="end">0.008</text>
<line x1="1102.2" y1="77.25" x2="1110.1000000000001" y2="77.25" stroke="#000" stroke-width="1.5"/>
<line x1="1386.9" y1="77.25" x2="1379.0" y2="77.25" stroke="#000" stroke-width="1.5"/>
<text transform="translate(1094.10,90.15) scale(0.943,1)" font-family="Liberation Serif" font-size="36.5" text-anchor="end">0.01</text>
<text transform="translate(1203.85,484.20) scale(1.226,1)" font-family="Liberation Serif" font-size="36" font-style="italic">T</text>
<text x="1234.35" y="484.20" font-family="Liberation Serif" font-size="36">(K)</text>
<line x1="1127.00" y1="96.20" x2="1184.00" y2="96.20" stroke="#aea371" stroke-width="1.3"/>
<path d="M1159.71,86.04 L1165.66,91.99 L1165.66,100.41 L1159.71,106.36 L1151.29,106.36 L1145.34,100.41 L1145.34,91.99 L1151.29,86.04 Z" fill="none" stroke="#aea371" stroke-width="1.0" stroke-linejoin="miter"/>
<text x="1207.30" y="106.50" font-family="Liberation Serif" font-size="30" font-style="italic">x</text>
<rect x="1228.50" y="95.80" width="18.5" height="1.2" fill="#000"/>
<rect x="1228.50" y="101.30" width="18.5" height="1.2" fill="#000"/>
<text x="1253.20" y="106.50" font-family="Liberation Serif" font-size="30">0.7</text>
<line x1="1127.00" y1="135.70" x2="1184.00" y2="135.70" stroke="#c8b866" stroke-width="1.3"/>
<path d="M1155.50,120.14 L1171.06,135.70 L1155.50,151.26 L1139.94,135.70 Z" fill="none" stroke="#c8b866" stroke-width="1.0" stroke-linejoin="miter"/>
<text x="1207.30" y="146.00" font-family="Liberation Serif" font-size="30" font-style="italic">x</text>
<rect x="1228.50" y="135.30" width="18.5" height="1.2" fill="#000"/>
<rect x="1228.50" y="140.80" width="18.5" height="1.2" fill="#000"/>
<text x="1253.20" y="146.00" font-family="Liberation Serif" font-size="30">0.8</text>
<line x1="1127.00" y1="175.20" x2="1184.00" y2="175.20" stroke="#e5cf52" stroke-width="1.3"/>
<path d="M1161.00,165.67 L1166.50,175.20 L1161.00,184.73 L1150.00,184.73 L1144.50,175.20 L1150.00,165.67 Z" fill="none" stroke="#e5cf52" stroke-width="1.0" stroke-linejoin="miter"/>
<text x="1207.30" y="185.50" font-family="Liberation Serif" font-size="30" font-style="italic">x</text>
<rect x="1228.50" y="174.80" width="18.5" height="1.2" fill="#000"/>
<rect x="1228.50" y="180.30" width="18.5" height="1.2" fill="#000"/>
<text x="1253.20" y="185.50" font-family="Liberation Serif" font-size="30">0.9</text>
<line x1="1127.00" y1="214.70" x2="1184.00" y2="214.70" stroke="#fee838" stroke-width="1.3"/>
<path d="M1155.50,203.70 L1157.97,211.30 L1165.96,211.30 L1159.50,216.00 L1161.97,223.60 L1155.50,218.90 L1149.03,223.60 L1151.50,216.00 L1145.04,211.30 L1153.03,211.30 Z" fill="none" stroke="#fee838" stroke-width="1.0" stroke-linejoin="miter"/>
<text x="1207.30" y="225.00" font-family="Liberation Serif" font-size="30" font-style="italic">x</text>
<rect x="1228.50" y="214.30" width="18.5" height="1.2" fill="#000"/>
<rect x="1228.50" y="219.80" width="18.5" height="1.2" fill="#000"/>
<text x="1253.20" y="225.00" font-family="Liberation Serif" font-size="30">1</text>
<text transform="translate(2.5,565.0) scale(1,1.0)" font-family="Liberation Serif" font-weight="bold" font-size="50">d</text>
<g clip-path="url(#clipd)">
<polyline points="148.97,755.40 175.69,773.48 202.41,786.70 229.14,796.42 255.86,804.78 282.58,822.86 309.30,829.88 336.02,876.02 362.74,886.28 389.46,895.18" fill="none" stroke="#00224e" stroke-width="1.3" stroke-linejoin="round"/>
<polyline points="148.97,755.40 175.69,768.89 202.41,779.96 229.14,792.10 255.86,800.73 282.58,811.80 309.30,818.54 336.02,842.56 362.74,848.23 389.46,853.08" fill="none" stroke="#083370" stroke-width="1.3" stroke-linejoin="round"/>
<polyline points="148.97,755.40 175.69,755.67 202.41,761.34 229.14,761.61 255.86,763.50 282.58,770.51 309.30,778.07 336.02,779.42 362.74,786.43 389.46,783.73" fill="none" stroke="#35456c" stroke-width="1.3" stroke-linejoin="round"/>
<polyline points="148.97,755.40 175.69,756.48 202.41,762.42 229.14,761.88 255.86,764.84 282.58,769.97 309.30,775.10 336.02,775.10 362.74,774.83 389.46,778.61" fill="none" stroke="#4f576c" stroke-width="1.3" stroke-linejoin="round"/>
<circle cx="148.97" cy="755.40" r="11.0" fill="none" stroke="#00224e" stroke-width="1.0"/>
<circle cx="175.69" cy="773.48" r="11.0" fill="none" stroke="#00224e" stroke-width="1.0"/>
<circle cx="202.41" cy="786.70" r="11.0" fill="none" stroke="#00224e" stroke-width="1.0"/>
<circle cx="229.14" cy="796.42" r="11.0" fill="none" stroke="#00224e" stroke-width="1.0"/>
<circle cx="255.86" cy="804.78" r="11.0" fill="none" stroke="#00224e" stroke-width="1.0"/>
<circle cx="282.58" cy="822.86" r="11.0" fill="none" stroke="#00224e" stroke-width="1.0"/>
<circle cx="309.30" cy="829.88" r="11.0" fill="none" stroke="#00224e" stroke-width="1.0"/>
<circle cx="336.02" cy="876.02" r="11.0" fill="none" stroke="#00224e" stroke-width="1.0"/>
<circle cx="362.74" cy="886.28" r="11.0" fill="none" stroke="#00224e" stroke-width="1.0"/>
<circle cx="389.46" cy="895.18" r="11.0" fill="none" stroke="#00224e" stroke-width="1.0"/>
<path d="M148.97,744.40 L137.97,766.40 L159.97,766.40 Z" fill="none" stroke="#083370" stroke-width="1.0" stroke-linejoin="miter"/>
<path d="M175.69,757.89 L164.69,779.89 L186.69,779.89 Z" fill="none" stroke="#083370" stroke-width="1.0" stroke-linejoin="miter"/>
<path d="M202.41,768.96 L191.41,790.96 L213.41,790.96 Z" fill="none" stroke="#083370" stroke-width="1.0" stroke-linejoin="miter"/>
<path d="M229.14,781.10 L218.14,803.10 L240.14,803.10 Z" fill="none" stroke="#083370" stroke-width="1.0" stroke-linejoin="miter"/>
<path d="M255.86,789.73 L244.86,811.73 L266.86,811.73 Z" fill="none" stroke="#083370" stroke-width="1.0" stroke-linejoin="miter"/>
<path d="M282.58,800.80 L271.58,822.80 L293.58,822.80 Z" fill="none" stroke="#083370" stroke-width="1.0" stroke-linejoin="miter"/>
<path d="M309.30,807.54 L298.30,829.54 L320.30,829.54 Z" fill="none" stroke="#083370" stroke-width="1.0" stroke-linejoin="miter"/>
<path d="M336.02,831.56 L325.02,853.56 L347.02,853.56 Z" fill="none" stroke="#083370" stroke-width="1.0" stroke-linejoin="miter"/>
<path d="M362.74,837.23 L351.74,859.23 L373.74,859.23 Z" fill="none" stroke="#083370" stroke-width="1.0" stroke-linejoin="miter"/>
<path d="M389.46,842.08 L378.46,864.08 L400.46,864.08 Z" fill="none" stroke="#083370" stroke-width="1.0" stroke-linejoin="miter"/>
<path d="M148.97,766.40 L137.97,744.40 L159.97,744.40 Z" fill="none" stroke="#35456c" stroke-width="1.0" stroke-linejoin="miter"/>
<path d="M175.69,766.67 L164.69,744.67 L186.69,744.67 Z" fill="none" stroke="#35456c" stroke-width="1.0" stroke-linejoin="miter"/>
<path d="M202.41,772.34 L191.41,750.34 L213.41,750.34 Z" fill="none" stroke="#35456c" stroke-width="1.0" stroke-linejoin="miter"/>
<path d="M229.14,772.61 L218.14,750.61 L240.14,750.61 Z" fill="none" stroke="#35456c" stroke-width="1.0" stroke-linejoin="miter"/>
<path d="M255.86,774.50 L244.86,752.50 L266.86,752.50 Z" fill="none" stroke="#35456c" stroke-width="1.0" stroke-linejoin="miter"/>
<path d="M282.58,781.51 L271.58,759.51 L293.58,759.51 Z" fill="none" stroke="#35456c" stroke-width="1.0" stroke-linejoin="miter"/>
<path d="M309.30,789.07 L298.30,767.07 L320.30,767.07 Z" fill="none" stroke="#35456c" stroke-width="1.0" stroke-linejoin="miter"/>
<path d="M336.02,790.42 L325.02,768.42 L347.02,768.42 Z" fill="none" stroke="#35456c" stroke-width="1.0" stroke-linejoin="miter"/>
<path d="M362.74,797.43 L351.74,775.43 L373.74,775.43 Z" fill="none" stroke="#35456c" stroke-width="1.0" stroke-linejoin="miter"/>
<path d="M389.46,794.73 L378.46,772.73 L400.46,772.73 Z" fill="none" stroke="#35456c" stroke-width="1.0" stroke-linejoin="miter"/>
<path d="M159.97,755.40 L137.97,744.40 L137.97,766.40 Z" fill="none" stroke="#4f576c" stroke-width="1.0" stroke-linejoin="miter"/>
<path d="M186.69,756.48 L164.69,745.48 L164.69,767.48 Z" fill="none" stroke="#4f576c" stroke-width="1.0" stroke-linejoin="miter"/>
<path d="M213.41,762.42 L191.41,751.42 L191.41,773.42 Z" fill="none" stroke="#4f576c" stroke-width="1.0" stroke-linejoin="miter"/>
<path d="M240.14,761.88 L218.14,750.88 L218.14,772.88 Z" fill="none" stroke="#4f576c" stroke-width="1.0" stroke-linejoin="miter"/>
<path d="M266.86,764.84 L244.86,753.84 L244.86,775.84 Z" fill="none" stroke="#4f576c" stroke-width="1.0" stroke-linejoin="miter"/>
<path d="M293.58,769.97 L271.58,758.97 L271.58,780.97 Z" fill="none" stroke="#4f576c" stroke-width="1.0" stroke-linejoin="miter"/>
<path d="M320.30,775.10 L298.30,764.10 L298.30,786.10 Z" fill="none" stroke="#4f576c" stroke-width="1.0" stroke-linejoin="miter"/>
<path d="M347.02,775.10 L325.02,764.10 L325.02,786.10 Z" fill="none" stroke="#4f576c" stroke-width="1.0" stroke-linejoin="miter"/>
<path d="M373.74,774.83 L351.74,763.83 L351.74,785.83 Z" fill="none" stroke="#4f576c" stroke-width="1.0" stroke-linejoin="miter"/>
<path d="M400.46,778.61 L378.46,767.61 L378.46,789.61 Z" fill="none" stroke="#4f576c" stroke-width="1.0" stroke-linejoin="miter"/>
</g>
<rect x="137.9" y="580.0" width="284.7" height="350.8" fill="none" stroke="#000" stroke-width="1.6"/>
<line x1="146.30" y1="930.8" x2="146.30" y2="922.9" stroke="#000" stroke-width="1.5"/>
<line x1="146.30" y1="580.0" x2="146.30" y2="587.9" stroke="#000" stroke-width="1.5"/>
<text transform="translate(146.30,962.8) scale(0.955,1)" font-family="Liberation Serif" font-size="36.5" text-anchor="middle">300</text>
<line x1="235.37" y1="930.8" x2="235.37" y2="922.9" stroke="#000" stroke-width="1.5"/>
<line x1="235.37" y1="580.0" x2="235.37" y2="587.9" stroke="#000" stroke-width="1.5"/>
<text transform="translate(235.37,962.8) scale(0.955,1)" font-family="Liberation Serif" font-size="36.5" text-anchor="middle">400</text>
<line x1="324.44" y1="930.8" x2="324.44" y2="922.9" stroke="#000" stroke-width="1.5"/>
<line x1="324.44" y1="580.0" x2="324.44" y2="587.9" stroke="#000" stroke-width="1.5"/>
<text transform="translate(324.44,962.8) scale(0.955,1)" font-family="Liberation Serif" font-size="36.5" text-anchor="middle">500</text>
<line x1="413.51" y1="930.8" x2="413.51" y2="922.9" stroke="#000" stroke-width="1.5"/>
<line x1="413.51" y1="580.0" x2="413.51" y2="587.9" stroke="#000" stroke-width="1.5"/>
<text transform="translate(413.51,962.8) scale(0.955,1)" font-family="Liberation Serif" font-size="36.5" text-anchor="middle">600</text>
<line x1="137.9" y1="917.31" x2="145.8" y2="917.31" stroke="#000" stroke-width="1.5"/>
<line x1="422.6" y1="917.31" x2="414.70000000000005" y2="917.31" stroke="#000" stroke-width="1.5"/>
<text transform="translate(129.80,930.21) scale(0.943,1)" font-family="Liberation Serif" font-size="36.5" text-anchor="end">-0.006</text>
<line x1="137.9" y1="863.34" x2="145.8" y2="863.34" stroke="#000" stroke-width="1.5"/>
<line x1="422.6" y1="863.34" x2="414.70000000000005" y2="863.34" stroke="#000" stroke-width="1.5"/>
<text transform="translate(129.80,876.24) scale(0.943,1)" font-family="Liberation Serif" font-size="36.5" text-anchor="end">-0.004</text>
<line x1="137.9" y1="809.37" x2="145.8" y2="809.37" stroke="#000" stroke-width="1.5"/>
<line x1="422.6" y1="809.37" x2="414.70000000000005" y2="809.37" stroke="#000" stroke-width="1.5"/>
<text transform="translate(129.80,822.27) scale(0.943,1)" font-family="Liberation Serif" font-size="36.5" text-anchor="end">-0.002</text>
<line x1="137.9" y1="755.40" x2="145.8" y2="755.40" stroke="#000" stroke-width="1.5"/>
<line x1="422.6" y1="755.40" x2="414.70000000000005" y2="755.40" stroke="#000" stroke-width="1.5"/>
<text transform="translate(129.80,768.30) scale(0.943,1)" font-family="Liberation Serif" font-size="36.5" text-anchor="end">0</text>
<line x1="137.9" y1="701.43" x2="145.8" y2="701.43" stroke="#000" stroke-width="1.5"/>
<line x1="422.6" y1="701.43" x2="414.70000000000005" y2="701.43" stroke="#000" stroke-width="1.5"/>
<text transform="translate(129.80,714.33) scale(0.943,1)" font-family="Liberation Serif" font-size="36.5" text-anchor="end">0.002</text>
<line x1="137.9" y1="647.46" x2="145.8" y2="647.46" stroke="#000" stroke-width="1.5"/>
<line x1="422.6" y1="647.46" x2="414.70000000000005" y2="647.46" stroke="#000" stroke-width="1.5"/>
<text transform="translate(129.80,660.36) scale(0.943,1)" font-family="Liberation Serif" font-size="36.5" text-anchor="end">0.004</text>
<line x1="137.9" y1="593.49" x2="145.8" y2="593.49" stroke="#000" stroke-width="1.5"/>
<line x1="422.6" y1="593.49" x2="414.70000000000005" y2="593.49" stroke="#000" stroke-width="1.5"/>
<text transform="translate(129.80,606.39) scale(0.943,1)" font-family="Liberation Serif" font-size="36.5" text-anchor="end">0.006</text>
<text transform="translate(239.55,1002.90) scale(1.226,1)" font-family="Liberation Serif" font-size="36" font-style="italic">T</text>
<text x="270.05" y="1002.90" font-family="Liberation Serif" font-size="36">(K)</text>
<g transform="translate(26.8,835.45) rotate(-90)" font-family="Liberation Serif" font-size="29.5"><text transform="translate(-1.18,0) scale(1.18,1)" font-style="normal">Δ</text><text x="22.10" y="0" font-style="italic">c</text><text x="41.00" y="0" font-style="normal">/</text><text x="55.70" y="0" font-style="italic">c</text><text x="75.00" y="0" font-style="normal">(</text><text x="84.00" y="0" font-style="normal">3</text><text x="98.10" y="0" font-style="normal">0</text><text x="112.30" y="0" font-style="normal">3</text><text x="132.40" y="0" font-style="normal">K</text><text x="152.70" y="0" font-style="normal">)</text></g>
<line x1="162.10" y1="614.70" x2="219.10" y2="614.70" stroke="#00224e" stroke-width="1.3"/>
<circle cx="190.60" cy="614.70" r="11.0" fill="none" stroke="#00224e" stroke-width="1.0"/>
<text x="242.40" y="625.00" font-family="Liberation Serif" font-size="30" font-style="italic">x</text>
<rect x="263.60" y="614.30" width="18.5" height="1.2" fill="#000"/>
<rect x="263.60" y="619.80" width="18.5" height="1.2" fill="#000"/>
<text x="288.30" y="625.00" font-family="Liberation Serif" font-size="30">0</text>
<line x1="162.10" y1="654.20" x2="219.10" y2="654.20" stroke="#083370" stroke-width="1.3"/>
<path d="M190.60,643.20 L179.60,665.20 L201.60,665.20 Z" fill="none" stroke="#083370" stroke-width="1.0" stroke-linejoin="miter"/>
<text x="242.40" y="664.50" font-family="Liberation Serif" font-size="30" font-style="italic">x</text>
<rect x="263.60" y="653.80" width="18.5" height="1.2" fill="#000"/>
<rect x="263.60" y="659.30" width="18.5" height="1.2" fill="#000"/>
<text x="288.30" y="664.50" font-family="Liberation Serif" font-size="30">0.1</text>
<line x1="162.10" y1="693.70" x2="219.10" y2="693.70" stroke="#35456c" stroke-width="1.3"/>
<path d="M190.60,704.70 L179.60,682.70 L201.60,682.70 Z" fill="none" stroke="#35456c" stroke-width="1.0" stroke-linejoin="miter"/>
<text x="242.40" y="704.00" font-family="Liberation Serif" font-size="30" font-style="italic">x</text>
<rect x="263.60" y="693.30" width="18.5" height="1.2" fill="#000"/>
<rect x="263.60" y="698.80" width="18.5" height="1.2" fill="#000"/>
<text x="288.30" y="704.00" font-family="Liberation Serif" font-size="30">0.2</text>
<line x1="162.10" y1="733.20" x2="219.10" y2="733.20" stroke="#4f576c" stroke-width="1.3"/>
<path d="M201.60,733.20 L179.60,722.20 L179.60,744.20 Z" fill="none" stroke="#4f576c" stroke-width="1.0" stroke-linejoin="miter"/>
<text x="242.40" y="743.50" font-family="Liberation Serif" font-size="30" font-style="italic">x</text>
<rect x="263.60" y="732.80" width="18.5" height="1.2" fill="#000"/>
<rect x="263.60" y="738.30" width="18.5" height="1.2" fill="#000"/>
<text x="288.30" y="743.50" font-family="Liberation Serif" font-size="30">0.3</text>
<text transform="translate(501.4,555.0) scale(1,1.07)" font-family="Liberation Serif" font-weight="bold" font-size="50">e</text>
<g clip-path="url(#clipe)">
<polyline points="612.97,755.40 639.69,760.53 666.41,759.99 693.14,759.99 719.86,758.10 746.58,757.02 773.30,761.07 800.02,761.07 826.74,765.38 853.46,768.08" fill="none" stroke="#666970" stroke-width="1.3" stroke-linejoin="round"/>
<polyline points="612.97,755.40 639.69,754.05 666.41,751.62 693.14,754.05 719.86,752.97 746.58,754.32 773.30,751.89 800.02,751.62 826.74,747.03 853.46,739.21" fill="none" stroke="#7d7c78" stroke-width="1.3" stroke-linejoin="round"/>
<polyline points="612.97,755.40 639.69,758.10 666.41,758.37 693.14,758.10 719.86,754.05 746.58,757.02 773.30,754.05 800.02,748.92 826.74,748.38 853.46,746.76" fill="none" stroke="#948e77" stroke-width="1.3" stroke-linejoin="round"/>
<path d="M601.97,755.40 L623.97,744.40 L623.97,766.40 Z" fill="none" stroke="#666970" stroke-width="1.0" stroke-linejoin="miter"/>
<path d="M628.69,760.53 L650.69,749.53 L650.69,771.53 Z" fill="none" stroke="#666970" stroke-width="1.0" stroke-linejoin="miter"/>
<path d="M655.41,759.99 L677.41,748.99 L677.41,770.99 Z" fill="none" stroke="#666970" stroke-width="1.0" stroke-linejoin="miter"/>
<path d="M682.14,759.99 L704.14,748.99 L704.14,770.99 Z" fill="none" stroke="#666970" stroke-width="1.0" stroke-linejoin="miter"/>
<path d="M708.86,758.10 L730.86,747.10 L730.86,769.10 Z" fill="none" stroke="#666970" stroke-width="1.0" stroke-linejoin="miter"/>
<path d="M735.58,757.02 L757.58,746.02 L757.58,768.02 Z" fill="none" stroke="#666970" stroke-width="1.0" stroke-linejoin="miter"/>
<path d="M762.30,761.07 L784.30,750.07 L784.30,772.07 Z" fill="none" stroke="#666970" stroke-width="1.0" stroke-linejoin="miter"/>
<path d="M789.02,761.07 L811.02,750.07 L811.02,772.07 Z" fill="none" stroke="#666970" stroke-width="1.0" stroke-linejoin="miter"/>
<path d="M815.74,765.38 L837.74,754.38 L837.74,776.38 Z" fill="none" stroke="#666970" stroke-width="1.0" stroke-linejoin="miter"/>
<path d="M842.46,768.08 L864.46,757.08 L864.46,779.08 Z" fill="none" stroke="#666970" stroke-width="1.0" stroke-linejoin="miter"/>
<path d="M612.97,744.40 L623.43,752.00 L619.44,764.30 L606.51,764.30 L602.51,752.00 Z" fill="none" stroke="#7d7c78" stroke-width="1.0" stroke-linejoin="miter"/>
<path d="M639.69,743.05 L650.15,750.65 L646.16,762.95 L633.23,762.95 L629.23,750.65 Z" fill="none" stroke="#7d7c78" stroke-width="1.0" stroke-linejoin="miter"/>
<path d="M666.41,740.62 L676.88,748.22 L672.88,760.52 L659.95,760.52 L655.95,748.22 Z" fill="none" stroke="#7d7c78" stroke-width="1.0" stroke-linejoin="miter"/>
<path d="M693.14,743.05 L703.60,750.65 L699.60,762.95 L686.67,762.95 L682.67,750.65 Z" fill="none" stroke="#7d7c78" stroke-width="1.0" stroke-linejoin="miter"/>
<path d="M719.86,741.97 L730.32,749.57 L726.32,761.87 L713.39,761.87 L709.39,749.57 Z" fill="none" stroke="#7d7c78" stroke-width="1.0" stroke-linejoin="miter"/>
<path d="M746.58,743.32 L757.04,750.92 L753.04,763.22 L740.11,763.22 L736.12,750.92 Z" fill="none" stroke="#7d7c78" stroke-width="1.0" stroke-linejoin="miter"/>
<path d="M773.30,740.89 L783.76,748.49 L779.76,760.79 L766.83,760.79 L762.84,748.49 Z" fill="none" stroke="#7d7c78" stroke-width="1.0" stroke-linejoin="miter"/>
<path d="M800.02,740.62 L810.48,748.22 L806.48,760.52 L793.55,760.52 L789.56,748.22 Z" fill="none" stroke="#7d7c78" stroke-width="1.0" stroke-linejoin="miter"/>
<path d="M826.74,736.03 L837.20,743.64 L833.21,755.93 L820.27,755.93 L816.28,743.64 Z" fill="none" stroke="#7d7c78" stroke-width="1.0" stroke-linejoin="miter"/>
<path d="M853.46,728.21 L863.92,735.81 L859.93,748.11 L847.00,748.11 L843.00,735.81 Z" fill="none" stroke="#7d7c78" stroke-width="1.0" stroke-linejoin="miter"/>
<path d="M601.97,744.40 L623.97,744.40 L623.97,766.40 L601.97,766.40 Z" fill="none" stroke="#948e77" stroke-width="1.0" stroke-linejoin="miter"/>
<path d="M628.69,747.10 L650.69,747.10 L650.69,769.10 L628.69,769.10 Z" fill="none" stroke="#948e77" stroke-width="1.0" stroke-linejoin="miter"/>
<path d="M655.41,747.37 L677.41,747.37 L677.41,769.37 L655.41,769.37 Z" fill="none" stroke="#948e77" stroke-width="1.0" stroke-linejoin="miter"/>
<path d="M682.14,747.10 L704.14,747.10 L704.14,769.10 L682.14,769.10 Z" fill="none" stroke="#948e77" stroke-width="1.0" stroke-linejoin="miter"/>
<path d="M708.86,743.05 L730.86,743.05 L730.86,765.05 L708.86,765.05 Z" fill="none" stroke="#948e77" stroke-width="1.0" stroke-linejoin="miter"/>
<path d="M735.58,746.02 L757.58,746.02 L757.58,768.02 L735.58,768.02 Z" fill="none" stroke="#948e77" stroke-width="1.0" stroke-linejoin="miter"/>
<path d="M762.30,743.05 L784.30,743.05 L784.30,765.05 L762.30,765.05 Z" fill="none" stroke="#948e77" stroke-width="1.0" stroke-linejoin="miter"/>
<path d="M789.02,737.92 L811.02,737.92 L811.02,759.92 L789.02,759.92 Z" fill="none" stroke="#948e77" stroke-width="1.0" stroke-linejoin="miter"/>
<path d="M815.74,737.38 L837.74,737.38 L837.74,759.38 L815.74,759.38 Z" fill="none" stroke="#948e77" stroke-width="1.0" stroke-linejoin="miter"/>
<path d="M842.46,735.76 L864.46,735.76 L864.46,757.76 L842.46,757.76 Z" fill="none" stroke="#948e77" stroke-width="1.0" stroke-linejoin="miter"/>
</g>
<rect x="601.9" y="580.0" width="284.7" height="350.8" fill="none" stroke="#000" stroke-width="1.6"/>
<line x1="610.30" y1="930.8" x2="610.30" y2="922.9" stroke="#000" stroke-width="1.5"/>
<line x1="610.30" y1="580.0" x2="610.30" y2="587.9" stroke="#000" stroke-width="1.5"/>
<text transform="translate(610.30,962.8) scale(0.955,1)" font-family="Liberation Serif" font-size="36.5" text-anchor="middle">300</text>
<line x1="699.37" y1="930.8" x2="699.37" y2="922.9" stroke="#000" stroke-width="1.5"/>
<line x1="699.37" y1="580.0" x2="699.37" y2="587.9" stroke="#000" stroke-width="1.5"/>
<text transform="translate(699.37,962.8) scale(0.955,1)" font-family="Liberation Serif" font-size="36.5" text-anchor="middle">400</text>
<line x1="788.44" y1="930.8" x2="788.44" y2="922.9" stroke="#000" stroke-width="1.5"/>
<line x1="788.44" y1="580.0" x2="788.44" y2="587.9" stroke="#000" stroke-width="1.5"/>
<text transform="translate(788.44,962.8) scale(0.955,1)" font-family="Liberation Serif" font-size="36.5" text-anchor="middle">500</text>
<line x1="877.51" y1="930.8" x2="877.51" y2="922.9" stroke="#000" stroke-width="1.5"/>
<line x1="877.51" y1="580.0" x2="877.51" y2="587.9" stroke="#000" stroke-width="1.5"/>
<text transform="translate(877.51,962.8) scale(0.955,1)" font-family="Liberation Serif" font-size="36.5" text-anchor="middle">600</text>
<line x1="601.9" y1="917.31" x2="609.8" y2="917.31" stroke="#000" stroke-width="1.5"/>
<line x1="886.5999999999999" y1="917.31" x2="878.6999999999999" y2="917.31" stroke="#000" stroke-width="1.5"/>
<text transform="translate(593.80,930.21) scale(0.943,1)" font-family="Liberation Serif" font-size="36.5" text-anchor="end">-0.006</text>
<line x1="601.9" y1="863.34" x2="609.8" y2="863.34" stroke="#000" stroke-width="1.5"/>
<line x1="886.5999999999999" y1="863.34" x2="878.6999999999999" y2="863.34" stroke="#000" stroke-width="1.5"/>
<text transform="translate(593.80,876.24) scale(0.943,1)" font-family="Liberation Serif" font-size="36.5" text-anchor="end">-0.004</text>
<line x1="601.9" y1="809.37" x2="609.8" y2="809.37" stroke="#000" stroke-width="1.5"/>
<line x1="886.5999999999999" y1="809.37" x2="878.6999999999999" y2="809.37" stroke="#000" stroke-width="1.5"/>
<text transform="translate(593.80,822.27) scale(0.943,1)" font-family="Liberation Serif" font-size="36.5" text-anchor="end">-0.002</text>
<line x1="601.9" y1="755.40" x2="609.8" y2="755.40" stroke="#000" stroke-width="1.5"/>
<line x1="886.5999999999999" y1="755.40" x2="878.6999999999999" y2="755.40" stroke="#000" stroke-width="1.5"/>
<text transform="translate(593.80,768.30) scale(0.943,1)" font-family="Liberation Serif" font-size="36.5" text-anchor="end">0</text>
<line x1="601.9" y1="701.43" x2="609.8" y2="701.43" stroke="#000" stroke-width="1.5"/>
<line x1="886.5999999999999" y1="701.43" x2="878.6999999999999" y2="701.43" stroke="#000" stroke-width="1.5"/>
<text transform="translate(593.80,714.33) scale(0.943,1)" font-family="Liberation Serif" font-size="36.5" text-anchor="end">0.002</text>
<line x1="601.9" y1="647.46" x2="609.8" y2="647.46" stroke="#000" stroke-width="1.5"/>
<line x1="886.5999999999999" y1="647.46" x2="878.6999999999999" y2="647.46" stroke="#000" stroke-width="1.5"/>
<text transform="translate(593.80,660.36) scale(0.943,1)" font-family="Liberation Serif" font-size="36.5" text-anchor="end">0.004</text>
<line x1="601.9" y1="593.49" x2="609.8" y2="593.49" stroke="#000" stroke-width="1.5"/>
<line x1="886.5999999999999" y1="593.49" x2="878.6999999999999" y2="593.49" stroke="#000" stroke-width="1.5"/>
<text transform="translate(593.80,606.39) scale(0.943,1)" font-family="Liberation Serif" font-size="36.5" text-anchor="end">0.006</text>
<text transform="translate(703.55,1002.90) scale(1.226,1)" font-family="Liberation Serif" font-size="36" font-style="italic">T</text>
<text x="734.05" y="1002.90" font-family="Liberation Serif" font-size="36">(K)</text>
<line x1="626.40" y1="614.70" x2="683.40" y2="614.70" stroke="#666970" stroke-width="1.3"/>
<path d="M643.90,614.70 L665.90,603.70 L665.90,625.70 Z" fill="none" stroke="#666970" stroke-width="1.0" stroke-linejoin="miter"/>
<text x="706.70" y="625.00" font-family="Liberation Serif" font-size="30" font-style="italic">x</text>
<rect x="727.90" y="614.30" width="18.5" height="1.2" fill="#000"/>
<rect x="727.90" y="619.80" width="18.5" height="1.2" fill="#000"/>
<text x="752.60" y="625.00" font-family="Liberation Serif" font-size="30">0.4</text>
<line x1="626.40" y1="654.20" x2="683.40" y2="654.20" stroke="#7d7c78" stroke-width="1.3"/>
<path d="M654.90,643.20 L665.36,650.80 L661.37,663.10 L648.43,663.10 L644.44,650.80 Z" fill="none" stroke="#7d7c78" stroke-width="1.0" stroke-linejoin="miter"/>
<text x="706.70" y="664.50" font-family="Liberation Serif" font-size="30" font-style="italic">x</text>
<rect x="727.90" y="653.80" width="18.5" height="1.2" fill="#000"/>
<rect x="727.90" y="659.30" width="18.5" height="1.2" fill="#000"/>
<text x="752.60" y="664.50" font-family="Liberation Serif" font-size="30">0.5</text>
<line x1="626.40" y1="693.70" x2="683.40" y2="693.70" stroke="#948e77" stroke-width="1.3"/>
<path d="M643.90,682.70 L665.90,682.70 L665.90,704.70 L643.90,704.70 Z" fill="none" stroke="#948e77" stroke-width="1.0" stroke-linejoin="miter"/>
<text x="706.70" y="704.00" font-family="Liberation Serif" font-size="30" font-style="italic">x</text>
<rect x="727.90" y="693.30" width="18.5" height="1.2" fill="#000"/>
<rect x="727.90" y="698.80" width="18.5" height="1.2" fill="#000"/>
<text x="752.60" y="704.00" font-family="Liberation Serif" font-size="30">0.6</text>
<text transform="translate(1018.4,559.5) scale(1,1.0)" font-family="Liberation Serif" font-weight="bold" font-size="50">f</text>
<g clip-path="url(#clipf)">
<polyline points="1124.87,755.40 1151.59,734.08 1178.31,734.08 1205.04,718.16 1231.76,710.61 1258.48,711.15 1285.20,683.89 1311.92,658.53 1338.64,647.46 1365.36,634.24" fill="none" stroke="#aea371" stroke-width="1.3" stroke-linejoin="round"/>
<polyline points="1124.87,755.40 1151.59,762.42 1178.31,751.35 1205.04,746.23 1231.76,735.16 1258.48,738.13 1285.20,728.15 1311.92,699.00 1338.64,699.00 1365.36,686.32" fill="none" stroke="#c8b866" stroke-width="1.3" stroke-linejoin="round"/>
<polyline points="1124.87,755.40 1151.59,752.43 1178.31,745.42 1205.04,730.30 1231.76,728.15 1258.48,722.21 1285.20,711.95 1311.92,695.76 1338.64,676.60 1365.36,673.10" fill="none" stroke="#e5cf52" stroke-width="1.3" stroke-linejoin="round"/>
<polyline points="1124.87,755.40 1151.59,744.34 1178.31,731.11 1205.04,724.10 1231.76,713.03 1258.48,703.86 1285.20,685.78 1311.92,672.56 1338.64,654.21 1365.36,618.32" fill="none" stroke="#fee838" stroke-width="1.3" stroke-linejoin="round"/>
<path d="M1129.08,745.24 L1135.03,751.19 L1135.03,759.61 L1129.08,765.56 L1120.66,765.56 L1114.71,759.61 L1114.71,751.19 L1120.66,745.24 Z" fill="none" stroke="#aea371" stroke-width="1.0" stroke-linejoin="miter"/>
<path d="M1155.80,723.92 L1161.76,729.87 L1161.76,738.29 L1155.80,744.24 L1147.38,744.24 L1141.43,738.29 L1141.43,729.87 L1147.38,723.92 Z" fill="none" stroke="#aea371" stroke-width="1.0" stroke-linejoin="miter"/>
<path d="M1182.52,723.92 L1188.48,729.87 L1188.48,738.29 L1182.52,744.24 L1174.10,744.24 L1168.15,738.29 L1168.15,729.87 L1174.10,723.92 Z" fill="none" stroke="#aea371" stroke-width="1.0" stroke-linejoin="miter"/>
<path d="M1209.24,708.00 L1215.20,713.95 L1215.20,722.37 L1209.24,728.32 L1200.83,728.32 L1194.87,722.37 L1194.87,713.95 L1200.83,708.00 Z" fill="none" stroke="#aea371" stroke-width="1.0" stroke-linejoin="miter"/>
<path d="M1235.97,700.44 L1241.92,706.40 L1241.92,714.82 L1235.97,720.77 L1227.55,720.77 L1221.59,714.82 L1221.59,706.40 L1227.55,700.44 Z" fill="none" stroke="#aea371" stroke-width="1.0" stroke-linejoin="miter"/>
<path d="M1262.69,700.98 L1268.64,706.94 L1268.64,715.35 L1262.69,721.31 L1254.27,721.31 L1248.31,715.35 L1248.31,706.94 L1254.27,700.98 Z" fill="none" stroke="#aea371" stroke-width="1.0" stroke-linejoin="miter"/>
<path d="M1289.41,673.73 L1295.36,679.68 L1295.36,688.10 L1289.41,694.05 L1280.99,694.05 L1275.04,688.10 L1275.04,679.68 L1280.99,673.73 Z" fill="none" stroke="#aea371" stroke-width="1.0" stroke-linejoin="miter"/>
<path d="M1316.13,648.36 L1322.08,654.32 L1322.08,662.73 L1316.13,668.69 L1307.71,668.69 L1301.76,662.73 L1301.76,654.32 L1307.71,648.36 Z" fill="none" stroke="#aea371" stroke-width="1.0" stroke-linejoin="miter"/>
<path d="M1342.85,637.30 L1348.80,643.25 L1348.80,651.67 L1342.85,657.62 L1334.43,657.62 L1328.48,651.67 L1328.48,643.25 L1334.43,637.30 Z" fill="none" stroke="#aea371" stroke-width="1.0" stroke-linejoin="miter"/>
<path d="M1369.57,624.08 L1375.52,630.03 L1375.52,638.45 L1369.57,644.40 L1361.15,644.40 L1355.20,638.45 L1355.20,630.03 L1361.15,624.08 Z" fill="none" stroke="#aea371" stroke-width="1.0" stroke-linejoin="miter"/>
<path d="M1124.87,739.84 L1140.43,755.40 L1124.87,770.96 L1109.32,755.40 Z" fill="none" stroke="#c8b866" stroke-width="1.0" stroke-linejoin="miter"/>
<path d="M1151.59,746.86 L1167.15,762.42 L1151.59,777.97 L1136.04,762.42 Z" fill="none" stroke="#c8b866" stroke-width="1.0" stroke-linejoin="miter"/>
<path d="M1178.31,735.80 L1193.87,751.35 L1178.31,766.91 L1162.76,751.35 Z" fill="none" stroke="#c8b866" stroke-width="1.0" stroke-linejoin="miter"/>
<path d="M1205.04,730.67 L1220.59,746.23 L1205.04,761.78 L1189.48,746.23 Z" fill="none" stroke="#c8b866" stroke-width="1.0" stroke-linejoin="miter"/>
<path d="M1231.76,719.61 L1247.31,735.16 L1231.76,750.72 L1216.20,735.16 Z" fill="none" stroke="#c8b866" stroke-width="1.0" stroke-linejoin="miter"/>
<path d="M1258.48,722.57 L1274.03,738.13 L1258.48,753.69 L1242.92,738.13 Z" fill="none" stroke="#c8b866" stroke-width="1.0" stroke-linejoin="miter"/>
<path d="M1285.20,712.59 L1300.75,728.15 L1285.20,743.70 L1269.64,728.15 Z" fill="none" stroke="#c8b866" stroke-width="1.0" stroke-linejoin="miter"/>
<path d="M1311.92,683.45 L1327.48,699.00 L1311.92,714.56 L1296.36,699.00 Z" fill="none" stroke="#c8b866" stroke-width="1.0" stroke-linejoin="miter"/>
<path d="M1338.64,683.45 L1354.20,699.00 L1338.64,714.56 L1323.08,699.00 Z" fill="none" stroke="#c8b866" stroke-width="1.0" stroke-linejoin="miter"/>
<path d="M1365.36,670.76 L1380.92,686.32 L1365.36,701.88 L1349.80,686.32 Z" fill="none" stroke="#c8b866" stroke-width="1.0" stroke-linejoin="miter"/>
<path d="M1130.37,745.87 L1135.87,755.40 L1130.37,764.93 L1119.37,764.93 L1113.87,755.40 L1119.37,745.87 Z" fill="none" stroke="#e5cf52" stroke-width="1.0" stroke-linejoin="miter"/>
<path d="M1157.09,742.91 L1162.59,752.43 L1157.09,761.96 L1146.09,761.96 L1140.59,752.43 L1146.09,742.91 Z" fill="none" stroke="#e5cf52" stroke-width="1.0" stroke-linejoin="miter"/>
<path d="M1183.81,735.89 L1189.31,745.42 L1183.81,754.94 L1172.81,754.94 L1167.31,745.42 L1172.81,735.89 Z" fill="none" stroke="#e5cf52" stroke-width="1.0" stroke-linejoin="miter"/>
<path d="M1210.54,720.78 L1216.04,730.30 L1210.54,739.83 L1199.54,739.83 L1194.04,730.30 L1199.54,720.78 Z" fill="none" stroke="#e5cf52" stroke-width="1.0" stroke-linejoin="miter"/>
<path d="M1237.26,718.62 L1242.76,728.15 L1237.26,737.67 L1226.26,737.67 L1220.76,728.15 L1226.26,718.62 Z" fill="none" stroke="#e5cf52" stroke-width="1.0" stroke-linejoin="miter"/>
<path d="M1263.98,712.68 L1269.48,722.21 L1263.98,731.74 L1252.98,731.74 L1247.48,722.21 L1252.98,712.68 Z" fill="none" stroke="#e5cf52" stroke-width="1.0" stroke-linejoin="miter"/>
<path d="M1290.70,702.43 L1296.20,711.95 L1290.70,721.48 L1279.70,721.48 L1274.20,711.95 L1279.70,702.43 Z" fill="none" stroke="#e5cf52" stroke-width="1.0" stroke-linejoin="miter"/>
<path d="M1317.42,686.24 L1322.92,695.76 L1317.42,705.29 L1306.42,705.29 L1300.92,695.76 L1306.42,686.24 Z" fill="none" stroke="#e5cf52" stroke-width="1.0" stroke-linejoin="miter"/>
<path d="M1344.14,667.08 L1349.64,676.60 L1344.14,686.13 L1333.14,686.13 L1327.64,676.60 L1333.14,667.08 Z" fill="none" stroke="#e5cf52" stroke-width="1.0" stroke-linejoin="miter"/>
<path d="M1370.86,663.57 L1376.36,673.10 L1370.86,682.62 L1359.86,682.62 L1354.36,673.10 L1359.86,663.57 Z" fill="none" stroke="#e5cf52" stroke-width="1.0" stroke-linejoin="miter"/>
<path d="M1124.87,744.40 L1127.34,752.00 L1135.33,752.00 L1128.87,756.70 L1131.34,764.30 L1124.87,759.60 L1118.41,764.30 L1120.88,756.70 L1114.41,752.00 L1122.40,752.00 Z" fill="none" stroke="#fee838" stroke-width="1.0" stroke-linejoin="miter"/>
<path d="M1151.59,733.34 L1154.06,740.94 L1162.05,740.94 L1155.59,745.63 L1158.06,753.24 L1151.59,748.54 L1145.13,753.24 L1147.60,745.63 L1141.13,740.94 L1149.12,740.94 Z" fill="none" stroke="#fee838" stroke-width="1.0" stroke-linejoin="miter"/>
<path d="M1178.31,720.11 L1180.78,727.71 L1188.78,727.71 L1182.31,732.41 L1184.78,740.01 L1178.31,735.32 L1171.85,740.01 L1174.32,732.41 L1167.85,727.71 L1175.84,727.71 Z" fill="none" stroke="#fee838" stroke-width="1.0" stroke-linejoin="miter"/>
<path d="M1205.04,713.10 L1207.50,720.70 L1215.50,720.70 L1209.03,725.40 L1211.50,733.00 L1205.04,728.30 L1198.57,733.00 L1201.04,725.40 L1194.57,720.70 L1202.57,720.70 Z" fill="none" stroke="#fee838" stroke-width="1.0" stroke-linejoin="miter"/>
<path d="M1231.76,702.03 L1234.23,709.63 L1242.22,709.63 L1235.75,714.33 L1238.22,721.93 L1231.76,717.24 L1225.29,721.93 L1227.76,714.33 L1221.29,709.63 L1229.29,709.63 Z" fill="none" stroke="#fee838" stroke-width="1.0" stroke-linejoin="miter"/>
<path d="M1258.48,692.86 L1260.95,700.46 L1268.94,700.46 L1262.47,705.16 L1264.94,712.76 L1258.48,708.06 L1252.01,712.76 L1254.48,705.16 L1248.02,700.46 L1256.01,700.46 Z" fill="none" stroke="#fee838" stroke-width="1.0" stroke-linejoin="miter"/>
<path d="M1285.20,674.78 L1287.67,682.38 L1295.66,682.38 L1289.19,687.08 L1291.66,694.68 L1285.20,689.98 L1278.73,694.68 L1281.20,687.08 L1274.74,682.38 L1282.73,682.38 Z" fill="none" stroke="#fee838" stroke-width="1.0" stroke-linejoin="miter"/>
<path d="M1311.92,661.56 L1314.39,669.16 L1322.38,669.16 L1315.92,673.86 L1318.38,681.46 L1311.92,676.76 L1305.45,681.46 L1307.92,673.86 L1301.46,669.16 L1309.45,669.16 Z" fill="none" stroke="#fee838" stroke-width="1.0" stroke-linejoin="miter"/>
<path d="M1338.64,643.21 L1341.11,650.81 L1349.10,650.81 L1342.64,655.51 L1345.11,663.11 L1338.64,658.41 L1332.17,663.11 L1334.64,655.51 L1328.18,650.81 L1336.17,650.81 Z" fill="none" stroke="#fee838" stroke-width="1.0" stroke-linejoin="miter"/>
<path d="M1365.36,607.32 L1367.83,614.92 L1375.82,614.92 L1369.36,619.62 L1371.83,627.22 L1365.36,622.52 L1358.90,627.22 L1361.37,619.62 L1354.90,614.92 L1362.89,614.92 Z" fill="none" stroke="#fee838" stroke-width="1.0" stroke-linejoin="miter"/>
</g>
<rect x="1113.8" y="580.0" width="284.7" height="350.8" fill="none" stroke="#000" stroke-width="1.6"/>
<line x1="1122.20" y1="930.8" x2="1122.20" y2="922.9" stroke="#000" stroke-width="1.5"/>
<line x1="1122.20" y1="580.0" x2="1122.20" y2="587.9" stroke="#000" stroke-width="1.5"/>
<text transform="translate(1122.20,962.8) scale(0.955,1)" font-family="Liberation Serif" font-size="36.5" text-anchor="middle">300</text>
<line x1="1211.27" y1="930.8" x2="1211.27" y2="922.9" stroke="#000" stroke-width="1.5"/>
<line x1="1211.27" y1="580.0" x2="1211.27" y2="587.9" stroke="#000" stroke-width="1.5"/>
<text transform="translate(1211.27,962.8) scale(0.955,1)" font-family="Liberation Serif" font-size="36.5" text-anchor="middle">400</text>
<line x1="1300.34" y1="930.8" x2="1300.34" y2="922.9" stroke="#000" stroke-width="1.5"/>
<line x1="1300.34" y1="580.0" x2="1300.34" y2="587.9" stroke="#000" stroke-width="1.5"/>
<text transform="translate(1300.34,962.8) scale(0.955,1)" font-family="Liberation Serif" font-size="36.5" text-anchor="middle">500</text>
<line x1="1389.41" y1="930.8" x2="1389.41" y2="922.9" stroke="#000" stroke-width="1.5"/>
<line x1="1389.41" y1="580.0" x2="1389.41" y2="587.9" stroke="#000" stroke-width="1.5"/>
<text transform="translate(1389.41,962.8) scale(0.955,1)" font-family="Liberation Serif" font-size="36.5" text-anchor="middle">600</text>
<line x1="1113.8" y1="917.31" x2="1121.7" y2="917.31" stroke="#000" stroke-width="1.5"/>
<line x1="1398.5" y1="917.31" x2="1390.6" y2="917.31" stroke="#000" stroke-width="1.5"/>
<text transform="translate(1105.70,930.21) scale(0.943,1)" font-family="Liberation Serif" font-size="36.5" text-anchor="end">-0.006</text>
<line x1="1113.8" y1="863.34" x2="1121.7" y2="863.34" stroke="#000" stroke-width="1.5"/>
<line x1="1398.5" y1="863.34" x2="1390.6" y2="863.34" stroke="#000" stroke-width="1.5"/>
<text transform="translate(1105.70,876.24) scale(0.943,1)" font-family="Liberation Serif" font-size="36.5" text-anchor="end">-0.004</text>
<line x1="1113.8" y1="809.37" x2="1121.7" y2="809.37" stroke="#000" stroke-width="1.5"/>
<line x1="1398.5" y1="809.37" x2="1390.6" y2="809.37" stroke="#000" stroke-width="1.5"/>
<text transform="translate(1105.70,822.27) scale(0.943,1)" font-family="Liberation Serif" font-size="36.5" text-anchor="end">-0.002</text>
<line x1="1113.8" y1="755.40" x2="1121.7" y2="755.40" stroke="#000" stroke-width="1.5"/>
<line x1="1398.5" y1="755.40" x2="1390.6" y2="755.40" stroke="#000" stroke-width="1.5"/>
<text transform="translate(1105.70,768.30) scale(0.943,1)" font-family="Liberation Serif" font-size="36.5" text-anchor="end">0</text>
<line x1="1113.8" y1="701.43" x2="1121.7" y2="701.43" stroke="#000" stroke-width="1.5"/>
<line x1="1398.5" y1="701.43" x2="1390.6" y2="701.43" stroke="#000" stroke-width="1.5"/>
<text transform="translate(1105.70,714.33) scale(0.943,1)" font-family="Liberation Serif" font-size="36.5" text-anchor="end">0.002</text>
<line x1="1113.8" y1="647.46" x2="1121.7" y2="647.46" stroke="#000" stroke-width="1.5"/>
<line x1="1398.5" y1="647.46" x2="1390.6" y2="647.46" stroke="#000" stroke-width="1.5"/>
<text transform="translate(1105.70,660.36) scale(0.943,1)" font-family="Liberation Serif" font-size="36.5" text-anchor="end">0.004</text>
<line x1="1113.8" y1="593.49" x2="1121.7" y2="593.49" stroke="#000" stroke-width="1.5"/>
<line x1="1398.5" y1="593.49" x2="1390.6" y2="593.49" stroke="#000" stroke-width="1.5"/>
<text transform="translate(1105.70,606.39) scale(0.943,1)" font-family="Liberation Serif" font-size="36.5" text-anchor="end">0.006</text>
<text transform="translate(1215.45,1002.90) scale(1.226,1)" font-family="Liberation Serif" font-size="36" font-style="italic">T</text>
<text x="1245.95" y="1002.90" font-family="Liberation Serif" font-size="36">(K)</text>
<line x1="1211.00" y1="771.20" x2="1268.00" y2="771.20" stroke="#aea371" stroke-width="1.3"/>
<path d="M1243.71,761.04 L1249.66,766.99 L1249.66,775.41 L1243.71,781.36 L1235.29,781.36 L1229.34,775.41 L1229.34,766.99 L1235.29,761.04 Z" fill="none" stroke="#aea371" stroke-width="1.0" stroke-linejoin="miter"/>
<text x="1291.30" y="781.50" font-family="Liberation Serif" font-size="30" font-style="italic">x</text>
<rect x="1312.50" y="770.80" width="18.5" height="1.2" fill="#000"/>
<rect x="1312.50" y="776.30" width="18.5" height="1.2" fill="#000"/>
<text x="1337.20" y="781.50" font-family="Liberation Serif" font-size="30">0.7</text>
<line x1="1211.00" y1="810.70" x2="1268.00" y2="810.70" stroke="#c8b866" stroke-width="1.3"/>
<path d="M1239.50,795.14 L1255.06,810.70 L1239.50,826.26 L1223.94,810.70 Z" fill="none" stroke="#c8b866" stroke-width="1.0" stroke-linejoin="miter"/>
<text x="1291.30" y="821.00" font-family="Liberation Serif" font-size="30" font-style="italic">x</text>
<rect x="1312.50" y="810.30" width="18.5" height="1.2" fill="#000"/>
<rect x="1312.50" y="815.80" width="18.5" height="1.2" fill="#000"/>
<text x="1337.20" y="821.00" font-family="Liberation Serif" font-size="30">0.8</text>
<line x1="1211.00" y1="850.20" x2="1268.00" y2="850.20" stroke="#e5cf52" stroke-width="1.3"/>
<path d="M1245.00,840.67 L1250.50,850.20 L1245.00,859.73 L1234.00,859.73 L1228.50,850.20 L1234.00,840.67 Z" fill="none" stroke="#e5cf52" stroke-width="1.0" stroke-linejoin="miter"/>
<text x="1291.30" y="860.50" font-family="Liberation Serif" font-size="30" font-style="italic">x</text>
<rect x="1312.50" y="849.80" width="18.5" height="1.2" fill="#000"/>
<rect x="1312.50" y="855.30" width="18.5" height="1.2" fill="#000"/>
<text x="1337.20" y="860.50" font-family="Liberation Serif" font-size="30">0.9</text>
<line x1="1211.00" y1="889.70" x2="1268.00" y2="889.70" stroke="#fee838" stroke-width="1.3"/>
<path d="M1239.50,878.70 L1241.97,886.30 L1249.96,886.30 L1243.50,891.00 L1245.97,898.60 L1239.50,893.90 L1233.03,898.60 L1235.50,891.00 L1229.04,886.30 L1237.03,886.30 Z" fill="none" stroke="#fee838" stroke-width="1.0" stroke-linejoin="miter"/>
<text x="1291.30" y="900.00" font-family="Liberation Serif" font-size="30" font-style="italic">x</text>
<rect x="1312.50" y="889.30" width="18.5" height="1.2" fill="#000"/>
<rect x="1312.50" y="894.80" width="18.5" height="1.2" fill="#000"/>
<text x="1337.20" y="900.00" font-family="Liberation Serif" font-size="30">1</text>
<text transform="translate(1.6,1080.7) scale(1,1.0)" font-family="Liberation Serif" font-weight="bold" font-size="50">g</text>
<g clip-path="url(#clipg)">
<polyline points="149.07,1446.58 175.79,1422.85 202.51,1411.92 229.24,1392.52 255.96,1377.45 282.68,1363.22 309.40,1343.20 336.12,1324.83 362.84,1296.15 389.56,1263.96" fill="none" stroke="#00224e" stroke-width="1.3" stroke-linejoin="round"/>
<polyline points="149.07,1446.58 175.79,1435.44 202.51,1424.09 229.24,1410.06 255.96,1390.87 282.68,1375.39 309.40,1354.55 336.12,1355.58 362.84,1332.26 389.56,1286.87" fill="none" stroke="#083370" stroke-width="1.3" stroke-linejoin="round"/>
<polyline points="149.07,1446.58 175.79,1430.49 202.51,1383.44 229.24,1370.44 255.96,1347.53 282.68,1331.02 309.40,1305.02 336.12,1277.79 362.84,1260.86 389.56,1239.82" fill="none" stroke="#35456c" stroke-width="1.3" stroke-linejoin="round"/>
<polyline points="149.07,1446.58 175.79,1430.07 202.51,1418.31 229.24,1403.66 255.96,1388.60 282.68,1375.39 309.40,1357.64 336.12,1334.95 362.84,1318.85 389.56,1296.98" fill="none" stroke="#4f576c" stroke-width="1.3" stroke-linejoin="round"/>
<circle cx="149.07" cy="1446.58" r="11.0" fill="none" stroke="#00224e" stroke-width="1.0"/>
<circle cx="175.79" cy="1422.85" r="11.0" fill="none" stroke="#00224e" stroke-width="1.0"/>
<circle cx="202.51" cy="1411.92" r="11.0" fill="none" stroke="#00224e" stroke-width="1.0"/>
<circle cx="229.24" cy="1392.52" r="11.0" fill="none" stroke="#00224e" stroke-width="1.0"/>
<circle cx="255.96" cy="1377.45" r="11.0" fill="none" stroke="#00224e" stroke-width="1.0"/>
<circle cx="282.68" cy="1363.22" r="11.0" fill="none" stroke="#00224e" stroke-width="1.0"/>
<circle cx="309.40" cy="1343.20" r="11.0" fill="none" stroke="#00224e" stroke-width="1.0"/>
<circle cx="336.12" cy="1324.83" r="11.0" fill="none" stroke="#00224e" stroke-width="1.0"/>
<circle cx="362.84" cy="1296.15" r="11.0" fill="none" stroke="#00224e" stroke-width="1.0"/>
<circle cx="389.56" cy="1263.96" r="11.0" fill="none" stroke="#00224e" stroke-width="1.0"/>
<path d="M149.07,1435.58 L138.07,1457.58 L160.07,1457.58 Z" fill="none" stroke="#083370" stroke-width="1.0" stroke-linejoin="miter"/>
<path d="M175.79,1424.44 L164.79,1446.44 L186.79,1446.44 Z" fill="none" stroke="#083370" stroke-width="1.0" stroke-linejoin="miter"/>
<path d="M202.51,1413.09 L191.51,1435.09 L213.51,1435.09 Z" fill="none" stroke="#083370" stroke-width="1.0" stroke-linejoin="miter"/>
<path d="M229.24,1399.06 L218.24,1421.06 L240.24,1421.06 Z" fill="none" stroke="#083370" stroke-width="1.0" stroke-linejoin="miter"/>
<path d="M255.96,1379.87 L244.96,1401.87 L266.96,1401.87 Z" fill="none" stroke="#083370" stroke-width="1.0" stroke-linejoin="miter"/>
<path d="M282.68,1364.39 L271.68,1386.39 L293.68,1386.39 Z" fill="none" stroke="#083370" stroke-width="1.0" stroke-linejoin="miter"/>
<path d="M309.40,1343.55 L298.40,1365.55 L320.40,1365.55 Z" fill="none" stroke="#083370" stroke-width="1.0" stroke-linejoin="miter"/>
<path d="M336.12,1344.58 L325.12,1366.58 L347.12,1366.58 Z" fill="none" stroke="#083370" stroke-width="1.0" stroke-linejoin="miter"/>
<path d="M362.84,1321.26 L351.84,1343.26 L373.84,1343.26 Z" fill="none" stroke="#083370" stroke-width="1.0" stroke-linejoin="miter"/>
<path d="M389.56,1275.87 L378.56,1297.87 L400.56,1297.87 Z" fill="none" stroke="#083370" stroke-width="1.0" stroke-linejoin="miter"/>
<path d="M149.07,1457.58 L138.07,1435.58 L160.07,1435.58 Z" fill="none" stroke="#35456c" stroke-width="1.0" stroke-linejoin="miter"/>
<path d="M175.79,1441.49 L164.79,1419.49 L186.79,1419.49 Z" fill="none" stroke="#35456c" stroke-width="1.0" stroke-linejoin="miter"/>
<path d="M202.51,1394.44 L191.51,1372.44 L213.51,1372.44 Z" fill="none" stroke="#35456c" stroke-width="1.0" stroke-linejoin="miter"/>
<path d="M229.24,1381.44 L218.24,1359.44 L240.24,1359.44 Z" fill="none" stroke="#35456c" stroke-width="1.0" stroke-linejoin="miter"/>
<path d="M255.96,1358.53 L244.96,1336.53 L266.96,1336.53 Z" fill="none" stroke="#35456c" stroke-width="1.0" stroke-linejoin="miter"/>
<path d="M282.68,1342.02 L271.68,1320.02 L293.68,1320.02 Z" fill="none" stroke="#35456c" stroke-width="1.0" stroke-linejoin="miter"/>
<path d="M309.40,1316.02 L298.40,1294.02 L320.40,1294.02 Z" fill="none" stroke="#35456c" stroke-width="1.0" stroke-linejoin="miter"/>
<path d="M336.12,1288.79 L325.12,1266.79 L347.12,1266.79 Z" fill="none" stroke="#35456c" stroke-width="1.0" stroke-linejoin="miter"/>
<path d="M362.84,1271.86 L351.84,1249.86 L373.84,1249.86 Z" fill="none" stroke="#35456c" stroke-width="1.0" stroke-linejoin="miter"/>
<path d="M389.56,1250.82 L378.56,1228.82 L400.56,1228.82 Z" fill="none" stroke="#35456c" stroke-width="1.0" stroke-linejoin="miter"/>
<path d="M160.07,1446.58 L138.07,1435.58 L138.07,1457.58 Z" fill="none" stroke="#4f576c" stroke-width="1.0" stroke-linejoin="miter"/>
<path d="M186.79,1430.07 L164.79,1419.07 L164.79,1441.07 Z" fill="none" stroke="#4f576c" stroke-width="1.0" stroke-linejoin="miter"/>
<path d="M213.51,1418.31 L191.51,1407.31 L191.51,1429.31 Z" fill="none" stroke="#4f576c" stroke-width="1.0" stroke-linejoin="miter"/>
<path d="M240.24,1403.66 L218.24,1392.66 L218.24,1414.66 Z" fill="none" stroke="#4f576c" stroke-width="1.0" stroke-linejoin="miter"/>
<path d="M266.96,1388.60 L244.96,1377.60 L244.96,1399.60 Z" fill="none" stroke="#4f576c" stroke-width="1.0" stroke-linejoin="miter"/>
<path d="M293.68,1375.39 L271.68,1364.39 L271.68,1386.39 Z" fill="none" stroke="#4f576c" stroke-width="1.0" stroke-linejoin="miter"/>
<path d="M320.40,1357.64 L298.40,1346.64 L298.40,1368.64 Z" fill="none" stroke="#4f576c" stroke-width="1.0" stroke-linejoin="miter"/>
<path d="M347.12,1334.95 L325.12,1323.95 L325.12,1345.95 Z" fill="none" stroke="#4f576c" stroke-width="1.0" stroke-linejoin="miter"/>
<path d="M373.84,1318.85 L351.84,1307.85 L351.84,1329.85 Z" fill="none" stroke="#4f576c" stroke-width="1.0" stroke-linejoin="miter"/>
<path d="M400.56,1296.98 L378.56,1285.98 L378.56,1307.98 Z" fill="none" stroke="#4f576c" stroke-width="1.0" stroke-linejoin="miter"/>
</g>
<rect x="138.0" y="1106.1" width="284.7" height="350.8" fill="none" stroke="#000" stroke-width="1.6"/>
<line x1="146.40" y1="1456.8999999999999" x2="146.40" y2="1448.9999999999998" stroke="#000" stroke-width="1.5"/>
<line x1="146.40" y1="1106.1" x2="146.40" y2="1114.0" stroke="#000" stroke-width="1.5"/>
<text transform="translate(146.40,1488.8999999999999) scale(0.955,1)" font-family="Liberation Serif" font-size="36.5" text-anchor="middle">300</text>
<line x1="235.47" y1="1456.8999999999999" x2="235.47" y2="1448.9999999999998" stroke="#000" stroke-width="1.5"/>
<line x1="235.47" y1="1106.1" x2="235.47" y2="1114.0" stroke="#000" stroke-width="1.5"/>
<text transform="translate(235.47,1488.8999999999999) scale(0.955,1)" font-family="Liberation Serif" font-size="36.5" text-anchor="middle">400</text>
<line x1="324.54" y1="1456.8999999999999" x2="324.54" y2="1448.9999999999998" stroke="#000" stroke-width="1.5"/>
<line x1="324.54" y1="1106.1" x2="324.54" y2="1114.0" stroke="#000" stroke-width="1.5"/>
<text transform="translate(324.54,1488.8999999999999) scale(0.955,1)" font-family="Liberation Serif" font-size="36.5" text-anchor="middle">500</text>
<line x1="413.61" y1="1456.8999999999999" x2="413.61" y2="1448.9999999999998" stroke="#000" stroke-width="1.5"/>
<line x1="413.61" y1="1106.1" x2="413.61" y2="1114.0" stroke="#000" stroke-width="1.5"/>
<text transform="translate(413.61,1488.8999999999999) scale(0.955,1)" font-family="Liberation Serif" font-size="36.5" text-anchor="middle">600</text>
<line x1="138.0" y1="1446.58" x2="145.9" y2="1446.58" stroke="#000" stroke-width="1.5"/>
<line x1="422.7" y1="1446.58" x2="414.8" y2="1446.58" stroke="#000" stroke-width="1.5"/>
<text transform="translate(129.90,1459.48) scale(0.943,1)" font-family="Liberation Serif" font-size="36.5" text-anchor="end">0</text>
<line x1="138.0" y1="1364.04" x2="145.9" y2="1364.04" stroke="#000" stroke-width="1.5"/>
<line x1="422.7" y1="1364.04" x2="414.8" y2="1364.04" stroke="#000" stroke-width="1.5"/>
<text transform="translate(129.90,1376.94) scale(0.943,1)" font-family="Liberation Serif" font-size="36.5" text-anchor="end">0.004</text>
<line x1="138.0" y1="1281.50" x2="145.9" y2="1281.50" stroke="#000" stroke-width="1.5"/>
<line x1="422.7" y1="1281.50" x2="414.8" y2="1281.50" stroke="#000" stroke-width="1.5"/>
<text transform="translate(129.90,1294.40) scale(0.943,1)" font-family="Liberation Serif" font-size="36.5" text-anchor="end">0.008</text>
<line x1="138.0" y1="1198.96" x2="145.9" y2="1198.96" stroke="#000" stroke-width="1.5"/>
<line x1="422.7" y1="1198.96" x2="414.8" y2="1198.96" stroke="#000" stroke-width="1.5"/>
<text transform="translate(129.90,1211.86) scale(0.943,1)" font-family="Liberation Serif" font-size="36.5" text-anchor="end">0.012</text>
<line x1="138.0" y1="1116.42" x2="145.9" y2="1116.42" stroke="#000" stroke-width="1.5"/>
<line x1="422.7" y1="1116.42" x2="414.8" y2="1116.42" stroke="#000" stroke-width="1.5"/>
<text transform="translate(129.90,1129.32) scale(0.943,1)" font-family="Liberation Serif" font-size="36.5" text-anchor="end">0.016</text>
<text transform="translate(239.65,1529.00) scale(1.226,1)" font-family="Liberation Serif" font-size="36" font-style="italic">T</text>
<text x="270.15" y="1529.00" font-family="Liberation Serif" font-size="36">(K)</text>
<g transform="translate(38.1,1365.35) rotate(-90)" font-family="Liberation Serif" font-size="29.5"><text transform="translate(-1.18,0) scale(1.18,1)" font-style="normal">Δ</text><text x="21.20" y="0" font-style="italic">V</text><text x="44.70" y="0" font-style="normal">/</text><text x="59.10" y="0" font-style="italic">V</text><text x="83.50" y="0" font-style="normal">(</text><text x="92.10" y="0" font-style="normal">3</text><text x="106.00" y="0" font-style="normal">0</text><text x="120.20" y="0" font-style="normal">3</text><text x="140.50" y="0" font-style="normal">K</text><text x="160.60" y="0" font-style="normal">)</text></g>
<line x1="162.10" y1="1141.10" x2="219.10" y2="1141.10" stroke="#00224e" stroke-width="1.3"/>
<circle cx="190.60" cy="1141.10" r="11.0" fill="none" stroke="#00224e" stroke-width="1.0"/>
<text x="242.40" y="1151.40" font-family="Liberation Serif" font-size="30" font-style="italic">x</text>
<rect x="263.60" y="1140.70" width="18.5" height="1.2" fill="#000"/>
<rect x="263.60" y="1146.20" width="18.5" height="1.2" fill="#000"/>
<text x="288.30" y="1151.40" font-family="Liberation Serif" font-size="30">0</text>
<line x1="162.10" y1="1180.60" x2="219.10" y2="1180.60" stroke="#083370" stroke-width="1.3"/>
<path d="M190.60,1169.60 L179.60,1191.60 L201.60,1191.60 Z" fill="none" stroke="#083370" stroke-width="1.0" stroke-linejoin="miter"/>
<text x="242.40" y="1190.90" font-family="Liberation Serif" font-size="30" font-style="italic">x</text>
<rect x="263.60" y="1180.20" width="18.5" height="1.2" fill="#000"/>
<rect x="263.60" y="1185.70" width="18.5" height="1.2" fill="#000"/>
<text x="288.30" y="1190.90" font-family="Liberation Serif" font-size="30">0.1</text>
<line x1="162.10" y1="1220.10" x2="219.10" y2="1220.10" stroke="#35456c" stroke-width="1.3"/>
<path d="M190.60,1231.10 L179.60,1209.10 L201.60,1209.10 Z" fill="none" stroke="#35456c" stroke-width="1.0" stroke-linejoin="miter"/>
<text x="242.40" y="1230.40" font-family="Liberation Serif" font-size="30" font-style="italic">x</text>
<rect x="263.60" y="1219.70" width="18.5" height="1.2" fill="#000"/>
<rect x="263.60" y="1225.20" width="18.5" height="1.2" fill="#000"/>
<text x="288.30" y="1230.40" font-family="Liberation Serif" font-size="30">0.2</text>
<line x1="162.10" y1="1259.60" x2="219.10" y2="1259.60" stroke="#4f576c" stroke-width="1.3"/>
<path d="M201.60,1259.60 L179.60,1248.60 L179.60,1270.60 Z" fill="none" stroke="#4f576c" stroke-width="1.0" stroke-linejoin="miter"/>
<text x="242.40" y="1269.90" font-family="Liberation Serif" font-size="30" font-style="italic">x</text>
<rect x="263.60" y="1259.20" width="18.5" height="1.2" fill="#000"/>
<rect x="263.60" y="1264.70" width="18.5" height="1.2" fill="#000"/>
<text x="288.30" y="1269.90" font-family="Liberation Serif" font-size="30">0.3</text>
<text transform="translate(499.6,1082.9) scale(1,1.0)" font-family="Liberation Serif" font-weight="bold" font-size="50">h</text>
<g clip-path="url(#cliph)">
<polyline points="612.97,1446.58 639.69,1438.53 666.41,1415.01 693.14,1392.31 719.86,1382.20 746.58,1373.74 773.30,1332.47 800.02,1332.26 826.74,1317.82 853.46,1301.52" fill="none" stroke="#666970" stroke-width="1.3" stroke-linejoin="round"/>
<polyline points="612.97,1446.58 639.69,1428.01 666.41,1420.99 693.14,1390.87 719.86,1376.63 746.58,1354.55 773.30,1332.47 800.02,1312.66 826.74,1292.64 853.46,1277.17" fill="none" stroke="#7d7c78" stroke-width="1.3" stroke-linejoin="round"/>
<polyline points="612.97,1446.58 639.69,1426.57 666.41,1407.58 693.14,1385.30 719.86,1362.60 746.58,1342.58 773.30,1319.26 800.02,1236.72 826.74,1212.17 853.46,1177.09" fill="none" stroke="#948e77" stroke-width="1.3" stroke-linejoin="round"/>
<path d="M601.97,1446.58 L623.97,1435.58 L623.97,1457.58 Z" fill="none" stroke="#666970" stroke-width="1.0" stroke-linejoin="miter"/>
<path d="M628.69,1438.53 L650.69,1427.53 L650.69,1449.53 Z" fill="none" stroke="#666970" stroke-width="1.0" stroke-linejoin="miter"/>
<path d="M655.41,1415.01 L677.41,1404.01 L677.41,1426.01 Z" fill="none" stroke="#666970" stroke-width="1.0" stroke-linejoin="miter"/>
<path d="M682.14,1392.31 L704.14,1381.31 L704.14,1403.31 Z" fill="none" stroke="#666970" stroke-width="1.0" stroke-linejoin="miter"/>
<path d="M708.86,1382.20 L730.86,1371.20 L730.86,1393.20 Z" fill="none" stroke="#666970" stroke-width="1.0" stroke-linejoin="miter"/>
<path d="M735.58,1373.74 L757.58,1362.74 L757.58,1384.74 Z" fill="none" stroke="#666970" stroke-width="1.0" stroke-linejoin="miter"/>
<path d="M762.30,1332.47 L784.30,1321.47 L784.30,1343.47 Z" fill="none" stroke="#666970" stroke-width="1.0" stroke-linejoin="miter"/>
<path d="M789.02,1332.26 L811.02,1321.26 L811.02,1343.26 Z" fill="none" stroke="#666970" stroke-width="1.0" stroke-linejoin="miter"/>
<path d="M815.74,1317.82 L837.74,1306.82 L837.74,1328.82 Z" fill="none" stroke="#666970" stroke-width="1.0" stroke-linejoin="miter"/>
<path d="M842.46,1301.52 L864.46,1290.52 L864.46,1312.52 Z" fill="none" stroke="#666970" stroke-width="1.0" stroke-linejoin="miter"/>
<path d="M612.97,1435.58 L623.43,1443.18 L619.44,1455.48 L606.51,1455.48 L602.51,1443.18 Z" fill="none" stroke="#7d7c78" stroke-width="1.0" stroke-linejoin="miter"/>
<path d="M639.69,1417.01 L650.15,1424.61 L646.16,1436.91 L633.23,1436.91 L629.23,1424.61 Z" fill="none" stroke="#7d7c78" stroke-width="1.0" stroke-linejoin="miter"/>
<path d="M666.41,1409.99 L676.88,1417.60 L672.88,1429.89 L659.95,1429.89 L655.95,1417.60 Z" fill="none" stroke="#7d7c78" stroke-width="1.0" stroke-linejoin="miter"/>
<path d="M693.14,1379.87 L703.60,1387.47 L699.60,1399.77 L686.67,1399.77 L682.67,1387.47 Z" fill="none" stroke="#7d7c78" stroke-width="1.0" stroke-linejoin="miter"/>
<path d="M719.86,1365.63 L730.32,1373.23 L726.32,1385.53 L713.39,1385.53 L709.39,1373.23 Z" fill="none" stroke="#7d7c78" stroke-width="1.0" stroke-linejoin="miter"/>
<path d="M746.58,1343.55 L757.04,1351.15 L753.04,1363.45 L740.11,1363.45 L736.12,1351.15 Z" fill="none" stroke="#7d7c78" stroke-width="1.0" stroke-linejoin="miter"/>
<path d="M773.30,1321.47 L783.76,1329.07 L779.76,1341.37 L766.83,1341.37 L762.84,1329.07 Z" fill="none" stroke="#7d7c78" stroke-width="1.0" stroke-linejoin="miter"/>
<path d="M800.02,1301.66 L810.48,1309.26 L806.48,1321.56 L793.55,1321.56 L789.56,1309.26 Z" fill="none" stroke="#7d7c78" stroke-width="1.0" stroke-linejoin="miter"/>
<path d="M826.74,1281.64 L837.20,1289.24 L833.21,1301.54 L820.27,1301.54 L816.28,1289.24 Z" fill="none" stroke="#7d7c78" stroke-width="1.0" stroke-linejoin="miter"/>
<path d="M853.46,1266.17 L863.92,1273.77 L859.93,1286.07 L847.00,1286.07 L843.00,1273.77 Z" fill="none" stroke="#7d7c78" stroke-width="1.0" stroke-linejoin="miter"/>
<path d="M601.97,1435.58 L623.97,1435.58 L623.97,1457.58 L601.97,1457.58 Z" fill="none" stroke="#948e77" stroke-width="1.0" stroke-linejoin="miter"/>
<path d="M628.69,1415.57 L650.69,1415.57 L650.69,1437.57 L628.69,1437.57 Z" fill="none" stroke="#948e77" stroke-width="1.0" stroke-linejoin="miter"/>
<path d="M655.41,1396.58 L677.41,1396.58 L677.41,1418.58 L655.41,1418.58 Z" fill="none" stroke="#948e77" stroke-width="1.0" stroke-linejoin="miter"/>
<path d="M682.14,1374.30 L704.14,1374.30 L704.14,1396.30 L682.14,1396.30 Z" fill="none" stroke="#948e77" stroke-width="1.0" stroke-linejoin="miter"/>
<path d="M708.86,1351.60 L730.86,1351.60 L730.86,1373.60 L708.86,1373.60 Z" fill="none" stroke="#948e77" stroke-width="1.0" stroke-linejoin="miter"/>
<path d="M735.58,1331.58 L757.58,1331.58 L757.58,1353.58 L735.58,1353.58 Z" fill="none" stroke="#948e77" stroke-width="1.0" stroke-linejoin="miter"/>
<path d="M762.30,1308.26 L784.30,1308.26 L784.30,1330.26 L762.30,1330.26 Z" fill="none" stroke="#948e77" stroke-width="1.0" stroke-linejoin="miter"/>
<path d="M789.02,1225.72 L811.02,1225.72 L811.02,1247.72 L789.02,1247.72 Z" fill="none" stroke="#948e77" stroke-width="1.0" stroke-linejoin="miter"/>
<path d="M815.74,1201.17 L837.74,1201.17 L837.74,1223.17 L815.74,1223.17 Z" fill="none" stroke="#948e77" stroke-width="1.0" stroke-linejoin="miter"/>
<path d="M842.46,1166.09 L864.46,1166.09 L864.46,1188.09 L842.46,1188.09 Z" fill="none" stroke="#948e77" stroke-width="1.0" stroke-linejoin="miter"/>
</g>
<rect x="601.9" y="1106.1" width="284.7" height="350.8" fill="none" stroke="#000" stroke-width="1.6"/>
<line x1="610.30" y1="1456.8999999999999" x2="610.30" y2="1448.9999999999998" stroke="#000" stroke-width="1.5"/>
<line x1="610.30" y1="1106.1" x2="610.30" y2="1114.0" stroke="#000" stroke-width="1.5"/>
<text transform="translate(610.30,1488.8999999999999) scale(0.955,1)" font-family="Liberation Serif" font-size="36.5" text-anchor="middle">300</text>
<line x1="699.37" y1="1456.8999999999999" x2="699.37" y2="1448.9999999999998" stroke="#000" stroke-width="1.5"/>
<line x1="699.37" y1="1106.1" x2="699.37" y2="1114.0" stroke="#000" stroke-width="1.5"/>
<text transform="translate(699.37,1488.8999999999999) scale(0.955,1)" font-family="Liberation Serif" font-size="36.5" text-anchor="middle">400</text>
<line x1="788.44" y1="1456.8999999999999" x2="788.44" y2="1448.9999999999998" stroke="#000" stroke-width="1.5"/>
<line x1="788.44" y1="1106.1" x2="788.44" y2="1114.0" stroke="#000" stroke-width="1.5"/>
<text transform="translate(788.44,1488.8999999999999) scale(0.955,1)" font-family="Liberation Serif" font-size="36.5" text-anchor="middle">500</text>
<line x1="877.51" y1="1456.8999999999999" x2="877.51" y2="1448.9999999999998" stroke="#000" stroke-width="1.5"/>
<line x1="877.51" y1="1106.1" x2="877.51" y2="1114.0" stroke="#000" stroke-width="1.5"/>
<text transform="translate(877.51,1488.8999999999999) scale(0.955,1)" font-family="Liberation Serif" font-size="36.5" text-anchor="middle">600</text>
<line x1="601.9" y1="1446.58" x2="609.8" y2="1446.58" stroke="#000" stroke-width="1.5"/>
<line x1="886.5999999999999" y1="1446.58" x2="878.6999999999999" y2="1446.58" stroke="#000" stroke-width="1.5"/>
<text transform="translate(593.80,1459.48) scale(0.943,1)" font-family="Liberation Serif" font-size="36.5" text-anchor="end">0</text>
<line x1="601.9" y1="1364.04" x2="609.8" y2="1364.04" stroke="#000" stroke-width="1.5"/>
<line x1="886.5999999999999" y1="1364.04" x2="878.6999999999999" y2="1364.04" stroke="#000" stroke-width="1.5"/>
<text transform="translate(593.80,1376.94) scale(0.943,1)" font-family="Liberation Serif" font-size="36.5" text-anchor="end">0.004</text>
<line x1="601.9" y1="1281.50" x2="609.8" y2="1281.50" stroke="#000" stroke-width="1.5"/>
<line x1="886.5999999999999" y1="1281.50" x2="878.6999999999999" y2="1281.50" stroke="#000" stroke-width="1.5"/>
<text transform="translate(593.80,1294.40) scale(0.943,1)" font-family="Liberation Serif" font-size="36.5" text-anchor="end">0.008</text>
<line x1="601.9" y1="1198.96" x2="609.8" y2="1198.96" stroke="#000" stroke-width="1.5"/>
<line x1="886.5999999999999" y1="1198.96" x2="878.6999999999999" y2="1198.96" stroke="#000" stroke-width="1.5"/>
<text transform="translate(593.80,1211.86) scale(0.943,1)" font-family="Liberation Serif" font-size="36.5" text-anchor="end">0.012</text>
<line x1="601.9" y1="1116.42" x2="609.8" y2="1116.42" stroke="#000" stroke-width="1.5"/>
<line x1="886.5999999999999" y1="1116.42" x2="878.6999999999999" y2="1116.42" stroke="#000" stroke-width="1.5"/>
<text transform="translate(593.80,1129.32) scale(0.943,1)" font-family="Liberation Serif" font-size="36.5" text-anchor="end">0.016</text>
<text transform="translate(703.55,1529.00) scale(1.226,1)" font-family="Liberation Serif" font-size="36" font-style="italic">T</text>
<text x="734.05" y="1529.00" font-family="Liberation Serif" font-size="36">(K)</text>
<line x1="626.40" y1="1141.10" x2="683.40" y2="1141.10" stroke="#666970" stroke-width="1.3"/>
<path d="M643.90,1141.10 L665.90,1130.10 L665.90,1152.10 Z" fill="none" stroke="#666970" stroke-width="1.0" stroke-linejoin="miter"/>
<text x="706.70" y="1151.40" font-family="Liberation Serif" font-size="30" font-style="italic">x</text>
<rect x="727.90" y="1140.70" width="18.5" height="1.2" fill="#000"/>
<rect x="727.90" y="1146.20" width="18.5" height="1.2" fill="#000"/>
<text x="752.60" y="1151.40" font-family="Liberation Serif" font-size="30">0.4</text>
<line x1="626.40" y1="1180.60" x2="683.40" y2="1180.60" stroke="#7d7c78" stroke-width="1.3"/>
<path d="M654.90,1169.60 L665.36,1177.20 L661.37,1189.50 L648.43,1189.50 L644.44,1177.20 Z" fill="none" stroke="#7d7c78" stroke-width="1.0" stroke-linejoin="miter"/>
<text x="706.70" y="1190.90" font-family="Liberation Serif" font-size="30" font-style="italic">x</text>
<rect x="727.90" y="1180.20" width="18.5" height="1.2" fill="#000"/>
<rect x="727.90" y="1185.70" width="18.5" height="1.2" fill="#000"/>
<text x="752.60" y="1190.90" font-family="Liberation Serif" font-size="30">0.5</text>
<line x1="626.40" y1="1220.10" x2="683.40" y2="1220.10" stroke="#948e77" stroke-width="1.3"/>
<path d="M643.90,1209.10 L665.90,1209.10 L665.90,1231.10 L643.90,1231.10 Z" fill="none" stroke="#948e77" stroke-width="1.0" stroke-linejoin="miter"/>
<text x="706.70" y="1230.40" font-family="Liberation Serif" font-size="30" font-style="italic">x</text>
<rect x="727.90" y="1219.70" width="18.5" height="1.2" fill="#000"/>
<rect x="727.90" y="1225.20" width="18.5" height="1.2" fill="#000"/>
<text x="752.60" y="1230.40" font-family="Liberation Serif" font-size="30">0.6</text>
<text transform="translate(1027.2,1072.8) scale(1,1.0)" font-family="Liberation Serif" font-weight="bold" font-size="50">i</text>
<g clip-path="url(#clipi)">
<polyline points="1124.87,1446.58 1151.59,1425.74 1178.31,1409.03 1205.04,1385.71 1231.76,1365.69 1258.48,1342.58 1285.20,1308.33 1311.92,1273.45 1338.64,1238.78 1365.36,1186.78" fill="none" stroke="#aea371" stroke-width="1.3" stroke-linejoin="round"/>
<polyline points="1124.87,1446.58 1151.59,1441.22 1178.31,1425.12 1205.04,1404.90 1231.76,1383.44 1258.48,1384.68 1285.20,1362.60 1311.92,1323.39 1338.64,1323.39 1365.36,1321.33" fill="none" stroke="#c8b866" stroke-width="1.3" stroke-linejoin="round"/>
<polyline points="1124.87,1446.58 1151.59,1422.03 1178.31,1399.95 1205.04,1376.63 1231.76,1373.74 1258.48,1349.60 1285.20,1323.39 1311.92,1299.25 1338.64,1270.56 1365.36,1266.44" fill="none" stroke="#e5cf52" stroke-width="1.3" stroke-linejoin="round"/>
<polyline points="1124.87,1446.58 1151.59,1428.01 1178.31,1406.96 1205.04,1385.71 1231.76,1360.53 1258.48,1328.34 1285.20,1296.15 1311.92,1269.12 1338.64,1222.69 1365.36,1175.43" fill="none" stroke="#fee838" stroke-width="1.3" stroke-linejoin="round"/>
<path d="M1129.08,1436.42 L1135.03,1442.37 L1135.03,1450.79 L1129.08,1456.75 L1120.66,1456.75 L1114.71,1450.79 L1114.71,1442.37 L1120.66,1436.42 Z" fill="none" stroke="#aea371" stroke-width="1.0" stroke-linejoin="miter"/>
<path d="M1155.80,1415.58 L1161.76,1421.53 L1161.76,1429.95 L1155.80,1435.90 L1147.38,1435.90 L1141.43,1429.95 L1141.43,1421.53 L1147.38,1415.58 Z" fill="none" stroke="#aea371" stroke-width="1.0" stroke-linejoin="miter"/>
<path d="M1182.52,1398.86 L1188.48,1404.82 L1188.48,1413.24 L1182.52,1419.19 L1174.10,1419.19 L1168.15,1413.24 L1168.15,1404.82 L1174.10,1398.86 Z" fill="none" stroke="#aea371" stroke-width="1.0" stroke-linejoin="miter"/>
<path d="M1209.24,1375.55 L1215.20,1381.50 L1215.20,1389.92 L1209.24,1395.87 L1200.83,1395.87 L1194.87,1389.92 L1194.87,1381.50 L1200.83,1375.55 Z" fill="none" stroke="#aea371" stroke-width="1.0" stroke-linejoin="miter"/>
<path d="M1235.97,1355.53 L1241.92,1361.48 L1241.92,1369.90 L1235.97,1375.85 L1227.55,1375.85 L1221.59,1369.90 L1221.59,1361.48 L1227.55,1355.53 Z" fill="none" stroke="#aea371" stroke-width="1.0" stroke-linejoin="miter"/>
<path d="M1262.69,1332.42 L1268.64,1338.37 L1268.64,1346.79 L1262.69,1352.74 L1254.27,1352.74 L1248.31,1346.79 L1248.31,1338.37 L1254.27,1332.42 Z" fill="none" stroke="#aea371" stroke-width="1.0" stroke-linejoin="miter"/>
<path d="M1289.41,1298.16 L1295.36,1304.12 L1295.36,1312.54 L1289.41,1318.49 L1280.99,1318.49 L1275.04,1312.54 L1275.04,1304.12 L1280.99,1298.16 Z" fill="none" stroke="#aea371" stroke-width="1.0" stroke-linejoin="miter"/>
<path d="M1316.13,1263.29 L1322.08,1269.24 L1322.08,1277.66 L1316.13,1283.61 L1307.71,1283.61 L1301.76,1277.66 L1301.76,1269.24 L1307.71,1263.29 Z" fill="none" stroke="#aea371" stroke-width="1.0" stroke-linejoin="miter"/>
<path d="M1342.85,1228.62 L1348.80,1234.58 L1348.80,1242.99 L1342.85,1248.95 L1334.43,1248.95 L1328.48,1242.99 L1328.48,1234.58 L1334.43,1228.62 Z" fill="none" stroke="#aea371" stroke-width="1.0" stroke-linejoin="miter"/>
<path d="M1369.57,1176.62 L1375.52,1182.57 L1375.52,1190.99 L1369.57,1196.95 L1361.15,1196.95 L1355.20,1190.99 L1355.20,1182.57 L1361.15,1176.62 Z" fill="none" stroke="#aea371" stroke-width="1.0" stroke-linejoin="miter"/>
<path d="M1124.87,1431.03 L1140.43,1446.58 L1124.87,1462.14 L1109.32,1446.58 Z" fill="none" stroke="#c8b866" stroke-width="1.0" stroke-linejoin="miter"/>
<path d="M1151.59,1425.66 L1167.15,1441.22 L1151.59,1456.77 L1136.04,1441.22 Z" fill="none" stroke="#c8b866" stroke-width="1.0" stroke-linejoin="miter"/>
<path d="M1178.31,1409.57 L1193.87,1425.12 L1178.31,1440.68 L1162.76,1425.12 Z" fill="none" stroke="#c8b866" stroke-width="1.0" stroke-linejoin="miter"/>
<path d="M1205.04,1389.34 L1220.59,1404.90 L1205.04,1420.46 L1189.48,1404.90 Z" fill="none" stroke="#c8b866" stroke-width="1.0" stroke-linejoin="miter"/>
<path d="M1231.76,1367.88 L1247.31,1383.44 L1231.76,1398.99 L1216.20,1383.44 Z" fill="none" stroke="#c8b866" stroke-width="1.0" stroke-linejoin="miter"/>
<path d="M1258.48,1369.12 L1274.03,1384.68 L1258.48,1400.23 L1242.92,1384.68 Z" fill="none" stroke="#c8b866" stroke-width="1.0" stroke-linejoin="miter"/>
<path d="M1285.20,1347.04 L1300.75,1362.60 L1285.20,1378.15 L1269.64,1362.60 Z" fill="none" stroke="#c8b866" stroke-width="1.0" stroke-linejoin="miter"/>
<path d="M1311.92,1307.83 L1327.48,1323.39 L1311.92,1338.95 L1296.36,1323.39 Z" fill="none" stroke="#c8b866" stroke-width="1.0" stroke-linejoin="miter"/>
<path d="M1338.64,1307.83 L1354.20,1323.39 L1338.64,1338.95 L1323.08,1323.39 Z" fill="none" stroke="#c8b866" stroke-width="1.0" stroke-linejoin="miter"/>
<path d="M1365.36,1305.77 L1380.92,1321.33 L1365.36,1336.88 L1349.80,1321.33 Z" fill="none" stroke="#c8b866" stroke-width="1.0" stroke-linejoin="miter"/>
<path d="M1130.37,1437.06 L1135.87,1446.58 L1130.37,1456.11 L1119.37,1456.11 L1113.87,1446.58 L1119.37,1437.06 Z" fill="none" stroke="#e5cf52" stroke-width="1.0" stroke-linejoin="miter"/>
<path d="M1157.09,1412.50 L1162.59,1422.03 L1157.09,1431.55 L1146.09,1431.55 L1140.59,1422.03 L1146.09,1412.50 Z" fill="none" stroke="#e5cf52" stroke-width="1.0" stroke-linejoin="miter"/>
<path d="M1183.81,1390.42 L1189.31,1399.95 L1183.81,1409.47 L1172.81,1409.47 L1167.31,1399.95 L1172.81,1390.42 Z" fill="none" stroke="#e5cf52" stroke-width="1.0" stroke-linejoin="miter"/>
<path d="M1210.54,1367.10 L1216.04,1376.63 L1210.54,1386.15 L1199.54,1386.15 L1194.04,1376.63 L1199.54,1367.10 Z" fill="none" stroke="#e5cf52" stroke-width="1.0" stroke-linejoin="miter"/>
<path d="M1237.26,1364.21 L1242.76,1373.74 L1237.26,1383.27 L1226.26,1383.27 L1220.76,1373.74 L1226.26,1364.21 Z" fill="none" stroke="#e5cf52" stroke-width="1.0" stroke-linejoin="miter"/>
<path d="M1263.98,1340.07 L1269.48,1349.60 L1263.98,1359.12 L1252.98,1359.12 L1247.48,1349.60 L1252.98,1340.07 Z" fill="none" stroke="#e5cf52" stroke-width="1.0" stroke-linejoin="miter"/>
<path d="M1290.70,1313.86 L1296.20,1323.39 L1290.70,1332.92 L1279.70,1332.92 L1274.20,1323.39 L1279.70,1313.86 Z" fill="none" stroke="#e5cf52" stroke-width="1.0" stroke-linejoin="miter"/>
<path d="M1317.42,1289.72 L1322.92,1299.25 L1317.42,1308.77 L1306.42,1308.77 L1300.92,1299.25 L1306.42,1289.72 Z" fill="none" stroke="#e5cf52" stroke-width="1.0" stroke-linejoin="miter"/>
<path d="M1344.14,1261.04 L1349.64,1270.56 L1344.14,1280.09 L1333.14,1280.09 L1327.64,1270.56 L1333.14,1261.04 Z" fill="none" stroke="#e5cf52" stroke-width="1.0" stroke-linejoin="miter"/>
<path d="M1370.86,1256.91 L1376.36,1266.44 L1370.86,1275.96 L1359.86,1275.96 L1354.36,1266.44 L1359.86,1256.91 Z" fill="none" stroke="#e5cf52" stroke-width="1.0" stroke-linejoin="miter"/>
<path d="M1124.87,1435.58 L1127.34,1443.18 L1135.33,1443.18 L1128.87,1447.88 L1131.34,1455.48 L1124.87,1450.78 L1118.41,1455.48 L1120.88,1447.88 L1114.41,1443.18 L1122.40,1443.18 Z" fill="none" stroke="#fee838" stroke-width="1.0" stroke-linejoin="miter"/>
<path d="M1151.59,1417.01 L1154.06,1424.61 L1162.05,1424.61 L1155.59,1429.31 L1158.06,1436.91 L1151.59,1432.21 L1145.13,1436.91 L1147.60,1429.31 L1141.13,1424.61 L1149.12,1424.61 Z" fill="none" stroke="#fee838" stroke-width="1.0" stroke-linejoin="miter"/>
<path d="M1178.31,1395.96 L1180.78,1403.56 L1188.78,1403.56 L1182.31,1408.26 L1184.78,1415.86 L1178.31,1411.16 L1171.85,1415.86 L1174.32,1408.26 L1167.85,1403.56 L1175.84,1403.56 Z" fill="none" stroke="#fee838" stroke-width="1.0" stroke-linejoin="miter"/>
<path d="M1205.04,1374.71 L1207.50,1382.31 L1215.50,1382.31 L1209.03,1387.01 L1211.50,1394.61 L1205.04,1389.91 L1198.57,1394.61 L1201.04,1387.01 L1194.57,1382.31 L1202.57,1382.31 Z" fill="none" stroke="#fee838" stroke-width="1.0" stroke-linejoin="miter"/>
<path d="M1231.76,1349.53 L1234.23,1357.13 L1242.22,1357.13 L1235.75,1361.83 L1238.22,1369.43 L1231.76,1364.73 L1225.29,1369.43 L1227.76,1361.83 L1221.29,1357.13 L1229.29,1357.13 Z" fill="none" stroke="#fee838" stroke-width="1.0" stroke-linejoin="miter"/>
<path d="M1258.48,1317.34 L1260.95,1324.94 L1268.94,1324.94 L1262.47,1329.64 L1264.94,1337.24 L1258.48,1332.54 L1252.01,1337.24 L1254.48,1329.64 L1248.02,1324.94 L1256.01,1324.94 Z" fill="none" stroke="#fee838" stroke-width="1.0" stroke-linejoin="miter"/>
<path d="M1285.20,1285.15 L1287.67,1292.75 L1295.66,1292.75 L1289.19,1297.45 L1291.66,1305.05 L1285.20,1300.35 L1278.73,1305.05 L1281.20,1297.45 L1274.74,1292.75 L1282.73,1292.75 Z" fill="none" stroke="#fee838" stroke-width="1.0" stroke-linejoin="miter"/>
<path d="M1311.92,1258.12 L1314.39,1265.72 L1322.38,1265.72 L1315.92,1270.42 L1318.38,1278.02 L1311.92,1273.32 L1305.45,1278.02 L1307.92,1270.42 L1301.46,1265.72 L1309.45,1265.72 Z" fill="none" stroke="#fee838" stroke-width="1.0" stroke-linejoin="miter"/>
<path d="M1338.64,1211.69 L1341.11,1219.29 L1349.10,1219.29 L1342.64,1223.99 L1345.11,1231.59 L1338.64,1226.89 L1332.17,1231.59 L1334.64,1223.99 L1328.18,1219.29 L1336.17,1219.29 Z" fill="none" stroke="#fee838" stroke-width="1.0" stroke-linejoin="miter"/>
<path d="M1365.36,1164.43 L1367.83,1172.04 L1375.82,1172.04 L1369.36,1176.73 L1371.83,1184.33 L1365.36,1179.64 L1358.90,1184.33 L1361.37,1176.73 L1354.90,1172.04 L1362.89,1172.04 Z" fill="none" stroke="#fee838" stroke-width="1.0" stroke-linejoin="miter"/>
</g>
<rect x="1113.8" y="1106.1" width="284.7" height="350.8" fill="none" stroke="#000" stroke-width="1.6"/>
<line x1="1122.20" y1="1456.8999999999999" x2="1122.20" y2="1448.9999999999998" stroke="#000" stroke-width="1.5"/>
<line x1="1122.20" y1="1106.1" x2="1122.20" y2="1114.0" stroke="#000" stroke-width="1.5"/>
<text transform="translate(1122.20,1488.8999999999999) scale(0.955,1)" font-family="Liberation Serif" font-size="36.5" text-anchor="middle">300</text>
<line x1="1211.27" y1="1456.8999999999999" x2="1211.27" y2="1448.9999999999998" stroke="#000" stroke-width="1.5"/>
<line x1="1211.27" y1="1106.1" x2="1211.27" y2="1114.0" stroke="#000" stroke-width="1.5"/>
<text transform="translate(1211.27,1488.8999999999999) scale(0.955,1)" font-family="Liberation Serif" font-size="36.5" text-anchor="middle">400</text>
<line x1="1300.34" y1="1456.8999999999999" x2="1300.34" y2="1448.9999999999998" stroke="#000" stroke-width="1.5"/>
<line x1="1300.34" y1="1106.1" x2="1300.34" y2="1114.0" stroke="#000" stroke-width="1.5"/>
<text transform="translate(1300.34,1488.8999999999999) scale(0.955,1)" font-family="Liberation Serif" font-size="36.5" text-anchor="middle">500</text>
<line x1="1389.41" y1="1456.8999999999999" x2="1389.41" y2="1448.9999999999998" stroke="#000" stroke-width="1.5"/>
<line x1="1389.41" y1="1106.1" x2="1389.41" y2="1114.0" stroke="#000" stroke-width="1.5"/>
<text transform="translate(1389.41,1488.8999999999999) scale(0.955,1)" font-family="Liberation Serif" font-size="36.5" text-anchor="middle">600</text>
<line x1="1113.8" y1="1446.58" x2="1121.7" y2="1446.58" stroke="#000" stroke-width="1.5"/>
<line x1="1398.5" y1="1446.58" x2="1390.6" y2="1446.58" stroke="#000" stroke-width="1.5"/>
<text transform="translate(1105.70,1459.48) scale(0.943,1)" font-family="Liberation Serif" font-size="36.5" text-anchor="end">0</text>
<line x1="1113.8" y1="1364.04" x2="1121.7" y2="1364.04" stroke="#000" stroke-width="1.5"/>
<line x1="1398.5" y1="1364.04" x2="1390.6" y2="1364.04" stroke="#000" stroke-width="1.5"/>
<text transform="translate(1105.70,1376.94) scale(0.943,1)" font-family="Liberation Serif" font-size="36.5" text-anchor="end">0.004</text>
<line x1="1113.8" y1="1281.50" x2="1121.7" y2="1281.50" stroke="#000" stroke-width="1.5"/>
<line x1="1398.5" y1="1281.50" x2="1390.6" y2="1281.50" stroke="#000" stroke-width="1.5"/>
<text transform="translate(1105.70,1294.40) scale(0.943,1)" font-family="Liberation Serif" font-size="36.5" text-anchor="end">0.008</text>
<line x1="1113.8" y1="1198.96" x2="1121.7" y2="1198.96" stroke="#000" stroke-width="1.5"/>
<line x1="1398.5" y1="1198.96" x2="1390.6" y2="1198.96" stroke="#000" stroke-width="1.5"/>
<text transform="translate(1105.70,1211.86) scale(0.943,1)" font-family="Liberation Serif" font-size="36.5" text-anchor="end">0.012</text>
<line x1="1113.8" y1="1116.42" x2="1121.7" y2="1116.42" stroke="#000" stroke-width="1.5"/>
<line x1="1398.5" y1="1116.42" x2="1390.6" y2="1116.42" stroke="#000" stroke-width="1.5"/>
<text transform="translate(1105.70,1129.32) scale(0.943,1)" font-family="Liberation Serif" font-size="36.5" text-anchor="end">0.016</text>
<text transform="translate(1215.45,1529.00) scale(1.226,1)" font-family="Liberation Serif" font-size="36" font-style="italic">T</text>
<text x="1245.95" y="1529.00" font-family="Liberation Serif" font-size="36">(K)</text>
<line x1="1138.40" y1="1141.10" x2="1195.40" y2="1141.10" stroke="#aea371" stroke-width="1.3"/>
<path d="M1171.11,1130.94 L1177.06,1136.89 L1177.06,1145.31 L1171.11,1151.26 L1162.69,1151.26 L1156.74,1145.31 L1156.74,1136.89 L1162.69,1130.94 Z" fill="none" stroke="#aea371" stroke-width="1.0" stroke-linejoin="miter"/>
<text x="1218.70" y="1151.40" font-family="Liberation Serif" font-size="30" font-style="italic">x</text>
<rect x="1239.90" y="1140.70" width="18.5" height="1.2" fill="#000"/>
<rect x="1239.90" y="1146.20" width="18.5" height="1.2" fill="#000"/>
<text x="1264.60" y="1151.40" font-family="Liberation Serif" font-size="30">0.7</text>
<line x1="1138.40" y1="1180.60" x2="1195.40" y2="1180.60" stroke="#c8b866" stroke-width="1.3"/>
<path d="M1166.90,1165.04 L1182.46,1180.60 L1166.90,1196.16 L1151.34,1180.60 Z" fill="none" stroke="#c8b866" stroke-width="1.0" stroke-linejoin="miter"/>
<text x="1218.70" y="1190.90" font-family="Liberation Serif" font-size="30" font-style="italic">x</text>
<rect x="1239.90" y="1180.20" width="18.5" height="1.2" fill="#000"/>
<rect x="1239.90" y="1185.70" width="18.5" height="1.2" fill="#000"/>
<text x="1264.60" y="1190.90" font-family="Liberation Serif" font-size="30">0.8</text>
<line x1="1138.40" y1="1220.10" x2="1195.40" y2="1220.10" stroke="#e5cf52" stroke-width="1.3"/>
<path d="M1172.40,1210.57 L1177.90,1220.10 L1172.40,1229.63 L1161.40,1229.63 L1155.90,1220.10 L1161.40,1210.57 Z" fill="none" stroke="#e5cf52" stroke-width="1.0" stroke-linejoin="miter"/>
<text x="1218.70" y="1230.40" font-family="Liberation Serif" font-size="30" font-style="italic">x</text>
<rect x="1239.90" y="1219.70" width="18.5" height="1.2" fill="#000"/>
<rect x="1239.90" y="1225.20" width="18.5" height="1.2" fill="#000"/>
<text x="1264.60" y="1230.40" font-family="Liberation Serif" font-size="30">0.9</text>
<line x1="1138.40" y1="1259.60" x2="1195.40" y2="1259.60" stroke="#fee838" stroke-width="1.3"/>
<path d="M1166.90,1248.60 L1169.37,1256.20 L1177.36,1256.20 L1170.90,1260.90 L1173.37,1268.50 L1166.90,1263.80 L1160.43,1268.50 L1162.90,1260.90 L1156.44,1256.20 L1164.43,1256.20 Z" fill="none" stroke="#fee838" stroke-width="1.0" stroke-linejoin="miter"/>
<text x="1218.70" y="1269.90" font-family="Liberation Serif" font-size="30" font-style="italic">x</text>
<rect x="1239.90" y="1259.20" width="18.5" height="1.2" fill="#000"/>
<rect x="1239.90" y="1264.70" width="18.5" height="1.2" fill="#000"/>
<text x="1264.60" y="1269.90" font-family="Liberation Serif" font-size="30">1</text>
<rect x="1007.3" y="938.9" width="2.2" height="1.1" fill="#9a9a9a"/></svg>
</body></html>
